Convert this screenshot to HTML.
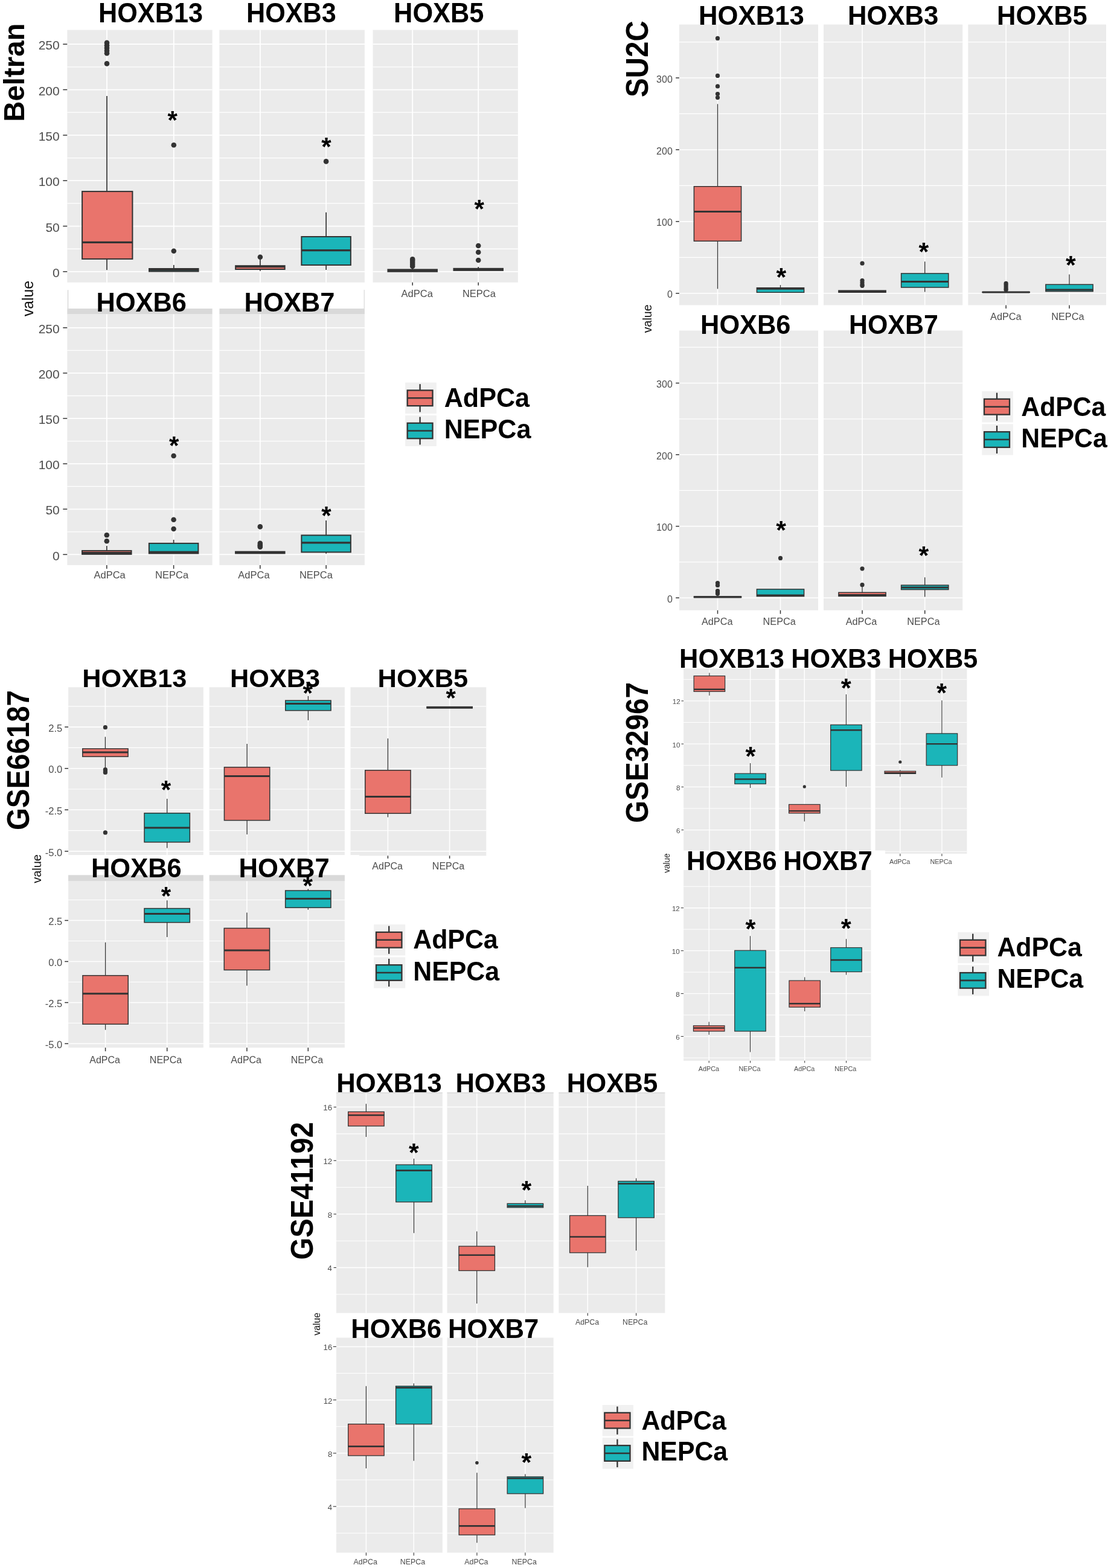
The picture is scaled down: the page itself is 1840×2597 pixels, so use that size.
<!DOCTYPE html>
<html><head><meta charset="utf-8"><title>HOXB expression boxplots</title>
<style>html,body{margin:0;padding:0;background:#fff;width:1840px;height:2597px;overflow:hidden}svg{display:block}</style></head>
<body>
<svg width="1840" height="2597" viewBox="0 0 1840 2597" font-family='"Liberation Sans", Arial, sans-serif'>
<rect x="111.3" y="49.6" width="240.3" height="418.2" fill="#EBEBEB"/>
<line x1="111.3" y1="412.23" x2="351.6" y2="412.23" stroke="#FFFFFF" stroke-width="1.3"/>
<line x1="111.3" y1="336.89" x2="351.6" y2="336.89" stroke="#FFFFFF" stroke-width="1.3"/>
<line x1="111.3" y1="261.55" x2="351.6" y2="261.55" stroke="#FFFFFF" stroke-width="1.3"/>
<line x1="111.3" y1="186.21" x2="351.6" y2="186.21" stroke="#FFFFFF" stroke-width="1.3"/>
<line x1="111.3" y1="110.87" x2="351.6" y2="110.87" stroke="#FFFFFF" stroke-width="1.3"/>
<line x1="111.3" y1="449.9" x2="351.6" y2="449.9" stroke="#FFFFFF" stroke-width="1.8"/>
<line x1="111.3" y1="374.56" x2="351.6" y2="374.56" stroke="#FFFFFF" stroke-width="1.8"/>
<line x1="111.3" y1="299.22" x2="351.6" y2="299.22" stroke="#FFFFFF" stroke-width="1.8"/>
<line x1="111.3" y1="223.88" x2="351.6" y2="223.88" stroke="#FFFFFF" stroke-width="1.8"/>
<line x1="111.3" y1="148.54" x2="351.6" y2="148.54" stroke="#FFFFFF" stroke-width="1.8"/>
<line x1="111.3" y1="73.2" x2="351.6" y2="73.2" stroke="#FFFFFF" stroke-width="1.8"/>
<line x1="177" y1="49.6" x2="177" y2="467.8" stroke="#FFFFFF" stroke-width="1.8"/>
<line x1="287.8" y1="49.6" x2="287.8" y2="467.8" stroke="#FFFFFF" stroke-width="1.8"/>
<line x1="177" y1="159" x2="177" y2="317.1" stroke="#333333" stroke-width="1.7"/>
<line x1="177" y1="428.9" x2="177" y2="447.2" stroke="#333333" stroke-width="1.7"/>
<rect x="136.1" y="317.1" width="83.3" height="111.8" fill="#E9746C" stroke="#333333" stroke-width="2"/>
<line x1="136.1" y1="401.3" x2="219.4" y2="401.3" stroke="#333333" stroke-width="3.3"/>
<circle cx="177" cy="70.9" r="4.3" fill="#333333"/>
<circle cx="177" cy="75.2" r="4.3" fill="#333333"/>
<circle cx="177" cy="79.6" r="4.3" fill="#333333"/>
<circle cx="177" cy="84" r="4.3" fill="#333333"/>
<circle cx="177" cy="88.2" r="4.3" fill="#333333"/>
<circle cx="177" cy="105.4" r="4.3" fill="#333333"/>
<line x1="287.8" y1="438.9" x2="287.8" y2="445" stroke="#333333" stroke-width="1.7"/>
<line x1="287.8" y1="449.5" x2="287.8" y2="450" stroke="#333333" stroke-width="1.7"/>
<rect x="247.05" y="445" width="81.5" height="4.5" fill="#1BB5B9" stroke="#333333" stroke-width="2"/>
<line x1="247.05" y1="447.2" x2="328.55" y2="447.2" stroke="#333333" stroke-width="3.3"/>
<circle cx="287.8" cy="240.3" r="4.3" fill="#333333"/>
<circle cx="287.8" cy="415.8" r="4.3" fill="#333333"/>
<text transform="translate(277.59,213.29) scale(1,1.000)" font-size="42.08" font-weight="bold" fill="#000">*</text>
<line x1="104.3" y1="449.9" x2="111.3" y2="449.9" stroke="#333333" stroke-width="1.5"/>
<text transform="translate(87.03,459.02) scale(1,1.000)" font-size="21" font-weight="normal" fill="#4D4D4D">0</text>
<line x1="104.3" y1="374.56" x2="111.3" y2="374.56" stroke="#333333" stroke-width="1.5"/>
<text transform="translate(75.38,383.68) scale(1,1.000)" font-size="21" font-weight="normal" fill="#4D4D4D">50</text>
<line x1="104.3" y1="299.22" x2="111.3" y2="299.22" stroke="#333333" stroke-width="1.5"/>
<text transform="translate(63.67,308.34) scale(1,1.000)" font-size="21" font-weight="normal" fill="#4D4D4D">100</text>
<line x1="104.3" y1="223.88" x2="111.3" y2="223.88" stroke="#333333" stroke-width="1.5"/>
<text transform="translate(63.67,233) scale(1,1.000)" font-size="21" font-weight="normal" fill="#4D4D4D">150</text>
<line x1="104.3" y1="148.54" x2="111.3" y2="148.54" stroke="#333333" stroke-width="1.5"/>
<text transform="translate(63.67,157.66) scale(1,1.000)" font-size="21" font-weight="normal" fill="#4D4D4D">200</text>
<line x1="104.3" y1="73.2" x2="111.3" y2="73.2" stroke="#333333" stroke-width="1.5"/>
<text transform="translate(63.67,82.32) scale(1,1.000)" font-size="21" font-weight="normal" fill="#4D4D4D">250</text>
<rect x="363.4" y="49.6" width="240.5" height="418.2" fill="#EBEBEB"/>
<line x1="363.4" y1="412.23" x2="603.9" y2="412.23" stroke="#FFFFFF" stroke-width="1.3"/>
<line x1="363.4" y1="336.89" x2="603.9" y2="336.89" stroke="#FFFFFF" stroke-width="1.3"/>
<line x1="363.4" y1="261.55" x2="603.9" y2="261.55" stroke="#FFFFFF" stroke-width="1.3"/>
<line x1="363.4" y1="186.21" x2="603.9" y2="186.21" stroke="#FFFFFF" stroke-width="1.3"/>
<line x1="363.4" y1="110.87" x2="603.9" y2="110.87" stroke="#FFFFFF" stroke-width="1.3"/>
<line x1="363.4" y1="449.9" x2="603.9" y2="449.9" stroke="#FFFFFF" stroke-width="1.8"/>
<line x1="363.4" y1="374.56" x2="603.9" y2="374.56" stroke="#FFFFFF" stroke-width="1.8"/>
<line x1="363.4" y1="299.22" x2="603.9" y2="299.22" stroke="#FFFFFF" stroke-width="1.8"/>
<line x1="363.4" y1="223.88" x2="603.9" y2="223.88" stroke="#FFFFFF" stroke-width="1.8"/>
<line x1="363.4" y1="148.54" x2="603.9" y2="148.54" stroke="#FFFFFF" stroke-width="1.8"/>
<line x1="363.4" y1="73.2" x2="603.9" y2="73.2" stroke="#FFFFFF" stroke-width="1.8"/>
<line x1="430.9" y1="49.6" x2="430.9" y2="467.8" stroke="#FFFFFF" stroke-width="1.8"/>
<line x1="540.1" y1="49.6" x2="540.1" y2="467.8" stroke="#FFFFFF" stroke-width="1.8"/>
<line x1="430.9" y1="430" x2="430.9" y2="440.2" stroke="#333333" stroke-width="1.7"/>
<line x1="430.9" y1="446" x2="430.9" y2="448.8" stroke="#333333" stroke-width="1.7"/>
<rect x="390.15" y="440.2" width="81.5" height="5.8" fill="#E9746C" stroke="#333333" stroke-width="2"/>
<line x1="390.15" y1="441.6" x2="471.65" y2="441.6" stroke="#333333" stroke-width="3.3"/>
<circle cx="430.9" cy="425.7" r="4.3" fill="#333333"/>
<line x1="540.1" y1="351.8" x2="540.1" y2="392" stroke="#333333" stroke-width="1.7"/>
<line x1="540.1" y1="439" x2="540.1" y2="446.9" stroke="#333333" stroke-width="1.7"/>
<rect x="499.35" y="392" width="81.5" height="47" fill="#1BB5B9" stroke="#333333" stroke-width="2"/>
<line x1="499.35" y1="414.6" x2="580.85" y2="414.6" stroke="#333333" stroke-width="3.3"/>
<circle cx="540.1" cy="267.4" r="4.3" fill="#333333"/>
<text transform="translate(532.29,257.09) scale(1,1.000)" font-size="42.08" font-weight="bold" fill="#000">*</text>
<rect x="617.5" y="49.6" width="240.3" height="418.2" fill="#EBEBEB"/>
<line x1="617.5" y1="412.23" x2="857.8" y2="412.23" stroke="#FFFFFF" stroke-width="1.3"/>
<line x1="617.5" y1="336.89" x2="857.8" y2="336.89" stroke="#FFFFFF" stroke-width="1.3"/>
<line x1="617.5" y1="261.55" x2="857.8" y2="261.55" stroke="#FFFFFF" stroke-width="1.3"/>
<line x1="617.5" y1="186.21" x2="857.8" y2="186.21" stroke="#FFFFFF" stroke-width="1.3"/>
<line x1="617.5" y1="110.87" x2="857.8" y2="110.87" stroke="#FFFFFF" stroke-width="1.3"/>
<line x1="617.5" y1="449.9" x2="857.8" y2="449.9" stroke="#FFFFFF" stroke-width="1.8"/>
<line x1="617.5" y1="374.56" x2="857.8" y2="374.56" stroke="#FFFFFF" stroke-width="1.8"/>
<line x1="617.5" y1="299.22" x2="857.8" y2="299.22" stroke="#FFFFFF" stroke-width="1.8"/>
<line x1="617.5" y1="223.88" x2="857.8" y2="223.88" stroke="#FFFFFF" stroke-width="1.8"/>
<line x1="617.5" y1="148.54" x2="857.8" y2="148.54" stroke="#FFFFFF" stroke-width="1.8"/>
<line x1="617.5" y1="73.2" x2="857.8" y2="73.2" stroke="#FFFFFF" stroke-width="1.8"/>
<line x1="683.2" y1="49.6" x2="683.2" y2="467.8" stroke="#FFFFFF" stroke-width="1.8"/>
<line x1="792.2" y1="49.6" x2="792.2" y2="467.8" stroke="#FFFFFF" stroke-width="1.8"/>
<line x1="683.2" y1="441" x2="683.2" y2="446.4" stroke="#333333" stroke-width="1.7"/>
<rect x="642.45" y="446.4" width="81.5" height="3.4" fill="#E9746C" stroke="#333333" stroke-width="2"/>
<line x1="642.45" y1="448.1" x2="723.95" y2="448.1" stroke="#333333" stroke-width="3.3"/>
<circle cx="683.2" cy="429.4" r="4.3" fill="#333333"/>
<circle cx="683.2" cy="432" r="4.3" fill="#333333"/>
<circle cx="683.2" cy="435" r="4.3" fill="#333333"/>
<circle cx="683.2" cy="438" r="4.3" fill="#333333"/>
<circle cx="683.2" cy="441" r="4.3" fill="#333333"/>
<line x1="792.2" y1="442" x2="792.2" y2="444.8" stroke="#333333" stroke-width="1.7"/>
<rect x="751.45" y="444.8" width="81.5" height="3.1" fill="#1BB5B9" stroke="#333333" stroke-width="2"/>
<line x1="751.45" y1="446.3" x2="832.95" y2="446.3" stroke="#333333" stroke-width="3.3"/>
<circle cx="792.2" cy="407" r="4.3" fill="#333333"/>
<circle cx="792.2" cy="417.7" r="4.3" fill="#333333"/>
<circle cx="792.2" cy="431" r="4.3" fill="#333333"/>
<text transform="translate(785.59,360.29) scale(1,1.000)" font-size="42.08" font-weight="bold" fill="#000">*</text>
<line x1="683.2" y1="467.8" x2="683.2" y2="472.8" stroke="#333333" stroke-width="1.5"/>
<text transform="translate(664.53,492.1) scale(1,1.000)" font-size="16.5" font-weight="normal" fill="#4D4D4D">AdPCa</text>
<line x1="792.2" y1="467.8" x2="792.2" y2="472.8" stroke="#333333" stroke-width="1.5"/>
<text transform="translate(765.91,492.1) scale(1,1.000)" font-size="16.5" font-weight="normal" fill="#4D4D4D">NEPCa</text>
<rect x="111.3" y="511.1" width="240.3" height="9.5" fill="#D9D9D9"/>
<rect x="363.4" y="511.1" width="240.5" height="9.5" fill="#D9D9D9"/>
<line x1="112.6" y1="480.3" x2="112.6" y2="511.1" stroke="#C8C8C8" stroke-width="1"/>
<line x1="603.2" y1="480" x2="603.2" y2="511.1" stroke="#D0D0D0" stroke-width="1"/>
<rect x="111.3" y="520.5" width="240.3" height="415.5" fill="#EBEBEB"/>
<line x1="111.3" y1="880.84" x2="351.6" y2="880.84" stroke="#FFFFFF" stroke-width="1.3"/>
<line x1="111.3" y1="805.72" x2="351.6" y2="805.72" stroke="#FFFFFF" stroke-width="1.3"/>
<line x1="111.3" y1="730.6" x2="351.6" y2="730.6" stroke="#FFFFFF" stroke-width="1.3"/>
<line x1="111.3" y1="655.48" x2="351.6" y2="655.48" stroke="#FFFFFF" stroke-width="1.3"/>
<line x1="111.3" y1="580.36" x2="351.6" y2="580.36" stroke="#FFFFFF" stroke-width="1.3"/>
<line x1="111.3" y1="918.4" x2="351.6" y2="918.4" stroke="#FFFFFF" stroke-width="1.8"/>
<line x1="111.3" y1="843.28" x2="351.6" y2="843.28" stroke="#FFFFFF" stroke-width="1.8"/>
<line x1="111.3" y1="768.16" x2="351.6" y2="768.16" stroke="#FFFFFF" stroke-width="1.8"/>
<line x1="111.3" y1="693.04" x2="351.6" y2="693.04" stroke="#FFFFFF" stroke-width="1.8"/>
<line x1="111.3" y1="617.92" x2="351.6" y2="617.92" stroke="#FFFFFF" stroke-width="1.8"/>
<line x1="111.3" y1="542.8" x2="351.6" y2="542.8" stroke="#FFFFFF" stroke-width="1.8"/>
<line x1="176.8" y1="520.5" x2="176.8" y2="936" stroke="#FFFFFF" stroke-width="1.8"/>
<line x1="287.6" y1="520.5" x2="287.6" y2="936" stroke="#FFFFFF" stroke-width="1.8"/>
<line x1="176.8" y1="904.1" x2="176.8" y2="912.1" stroke="#333333" stroke-width="1.7"/>
<line x1="176.8" y1="917.9" x2="176.8" y2="918.5" stroke="#333333" stroke-width="1.7"/>
<rect x="136.05" y="912.1" width="81.5" height="5.8" fill="#E9746C" stroke="#333333" stroke-width="2"/>
<line x1="136.05" y1="915.6" x2="217.55" y2="915.6" stroke="#333333" stroke-width="3.3"/>
<circle cx="176.8" cy="886.2" r="4.3" fill="#333333"/>
<circle cx="176.8" cy="896.3" r="4.3" fill="#333333"/>
<line x1="287.6" y1="894" x2="287.6" y2="899.9" stroke="#333333" stroke-width="1.7"/>
<line x1="287.6" y1="916.6" x2="287.6" y2="917" stroke="#333333" stroke-width="1.7"/>
<rect x="246.85" y="899.9" width="81.5" height="16.7" fill="#1BB5B9" stroke="#333333" stroke-width="2"/>
<line x1="246.85" y1="914.3" x2="328.35" y2="914.3" stroke="#333333" stroke-width="3.3"/>
<circle cx="287.6" cy="755" r="4.3" fill="#333333"/>
<circle cx="287.6" cy="860.7" r="4.3" fill="#333333"/>
<circle cx="287.6" cy="876" r="4.3" fill="#333333"/>
<text transform="translate(279.99,752.09) scale(1,1.000)" font-size="42.08" font-weight="bold" fill="#000">*</text>
<line x1="104.3" y1="918.4" x2="111.3" y2="918.4" stroke="#333333" stroke-width="1.5"/>
<text transform="translate(87.03,927.52) scale(1,1.000)" font-size="21" font-weight="normal" fill="#4D4D4D">0</text>
<line x1="104.3" y1="843.28" x2="111.3" y2="843.28" stroke="#333333" stroke-width="1.5"/>
<text transform="translate(75.38,852.4) scale(1,1.000)" font-size="21" font-weight="normal" fill="#4D4D4D">50</text>
<line x1="104.3" y1="768.16" x2="111.3" y2="768.16" stroke="#333333" stroke-width="1.5"/>
<text transform="translate(63.67,777.28) scale(1,1.000)" font-size="21" font-weight="normal" fill="#4D4D4D">100</text>
<line x1="104.3" y1="693.04" x2="111.3" y2="693.04" stroke="#333333" stroke-width="1.5"/>
<text transform="translate(63.67,702.16) scale(1,1.000)" font-size="21" font-weight="normal" fill="#4D4D4D">150</text>
<line x1="104.3" y1="617.92" x2="111.3" y2="617.92" stroke="#333333" stroke-width="1.5"/>
<text transform="translate(63.67,627.04) scale(1,1.000)" font-size="21" font-weight="normal" fill="#4D4D4D">200</text>
<line x1="104.3" y1="542.8" x2="111.3" y2="542.8" stroke="#333333" stroke-width="1.5"/>
<text transform="translate(63.67,551.92) scale(1,1.000)" font-size="21" font-weight="normal" fill="#4D4D4D">250</text>
<rect x="363.4" y="520.5" width="240.5" height="415.5" fill="#EBEBEB"/>
<line x1="363.4" y1="880.84" x2="603.9" y2="880.84" stroke="#FFFFFF" stroke-width="1.3"/>
<line x1="363.4" y1="805.72" x2="603.9" y2="805.72" stroke="#FFFFFF" stroke-width="1.3"/>
<line x1="363.4" y1="730.6" x2="603.9" y2="730.6" stroke="#FFFFFF" stroke-width="1.3"/>
<line x1="363.4" y1="655.48" x2="603.9" y2="655.48" stroke="#FFFFFF" stroke-width="1.3"/>
<line x1="363.4" y1="580.36" x2="603.9" y2="580.36" stroke="#FFFFFF" stroke-width="1.3"/>
<line x1="363.4" y1="918.4" x2="603.9" y2="918.4" stroke="#FFFFFF" stroke-width="1.8"/>
<line x1="363.4" y1="843.28" x2="603.9" y2="843.28" stroke="#FFFFFF" stroke-width="1.8"/>
<line x1="363.4" y1="768.16" x2="603.9" y2="768.16" stroke="#FFFFFF" stroke-width="1.8"/>
<line x1="363.4" y1="693.04" x2="603.9" y2="693.04" stroke="#FFFFFF" stroke-width="1.8"/>
<line x1="363.4" y1="617.92" x2="603.9" y2="617.92" stroke="#FFFFFF" stroke-width="1.8"/>
<line x1="363.4" y1="542.8" x2="603.9" y2="542.8" stroke="#FFFFFF" stroke-width="1.8"/>
<line x1="430.8" y1="520.5" x2="430.8" y2="936" stroke="#FFFFFF" stroke-width="1.8"/>
<line x1="540.1" y1="520.5" x2="540.1" y2="936" stroke="#FFFFFF" stroke-width="1.8"/>
<rect x="390.05" y="913.7" width="81.5" height="2.8" fill="#E9746C" stroke="#333333" stroke-width="2"/>
<line x1="390.05" y1="915.1" x2="471.55" y2="915.1" stroke="#333333" stroke-width="3.3"/>
<circle cx="430.8" cy="872.4" r="4.3" fill="#333333"/>
<circle cx="430.8" cy="899.8" r="4.3" fill="#333333"/>
<circle cx="430.8" cy="902.5" r="4.3" fill="#333333"/>
<circle cx="430.8" cy="904" r="4.3" fill="#333333"/>
<circle cx="430.8" cy="906" r="4.3" fill="#333333"/>
<line x1="540.1" y1="861.9" x2="540.1" y2="886.5" stroke="#333333" stroke-width="1.7"/>
<line x1="540.1" y1="914.5" x2="540.1" y2="917" stroke="#333333" stroke-width="1.7"/>
<rect x="499.35" y="886.5" width="81.5" height="28" fill="#1BB5B9" stroke="#333333" stroke-width="2"/>
<line x1="499.35" y1="898.9" x2="580.85" y2="898.9" stroke="#333333" stroke-width="3.3"/>
<text transform="translate(532.29,867.59) scale(1,1.000)" font-size="42.08" font-weight="bold" fill="#000">*</text>
<line x1="176.8" y1="936" x2="176.8" y2="942" stroke="#333333" stroke-width="1.5"/>
<text transform="translate(155.48,957.8) scale(1,1.000)" font-size="16.5" font-weight="normal" fill="#4D4D4D">AdPCa</text>
<line x1="287.6" y1="936" x2="287.6" y2="942" stroke="#333333" stroke-width="1.5"/>
<text transform="translate(257.11,957.8) scale(1,1.000)" font-size="16.5" font-weight="normal" fill="#4D4D4D">NEPCa</text>
<line x1="430.8" y1="936" x2="430.8" y2="942" stroke="#333333" stroke-width="1.5"/>
<text transform="translate(394.33,957.7) scale(1,1.000)" font-size="16.5" font-weight="normal" fill="#4D4D4D">AdPCa</text>
<line x1="540.1" y1="936" x2="540.1" y2="942" stroke="#333333" stroke-width="1.5"/>
<text transform="translate(495.91,957.7) scale(1,1.000)" font-size="16.5" font-weight="normal" fill="#4D4D4D">NEPCa</text>
<text transform="translate(40.2,201.8) rotate(-90) scale(1,1.009)" font-size="47.42" font-weight="bold" fill="#000">Beltran</text>
<text transform="translate(55,524.06) rotate(-90) scale(1,1.032)" font-size="24.73" font-weight="normal" fill="#111">value</text>
<text transform="translate(163.08,37.4) scale(1,1.049)" font-size="43.21" font-weight="bold" fill="#000">HOXB13</text>
<text transform="translate(408.09,37.4) scale(1,1.050)" font-size="43.14" font-weight="bold" fill="#000">HOXB3</text>
<text transform="translate(652.07,37.4) scale(1,1.045)" font-size="43.37" font-weight="bold" fill="#000">HOXB5</text>
<text transform="translate(159.57,515.5) scale(1,1.025)" font-size="43.38" font-weight="bold" fill="#000">HOXB6</text>
<text transform="translate(404.57,515.5) scale(1,1.022)" font-size="43.48" font-weight="bold" fill="#000">HOXB7</text>
<rect x="671.1" y="633.6" width="51.7" height="51.4" fill="#F1F1F1"/>
<line x1="695.6" y1="636.17" x2="695.6" y2="682.43" stroke="#333333" stroke-width="2.3"/>
<rect x="674.7" y="646.45" width="41.8" height="25.7" fill="#E9746C" stroke="#333333" stroke-width="2.3"/>
<line x1="674.7" y1="659.3" x2="716.5" y2="659.3" stroke="#333333" stroke-width="2.6"/>
<text transform="translate(735.72,673.9) scale(1,1.040)" font-size="43.1" font-weight="bold" fill="#000">AdPCa</text>
<rect x="671.1" y="688" width="51.7" height="51" fill="#F1F1F1"/>
<line x1="695.6" y1="690.55" x2="695.6" y2="736.45" stroke="#333333" stroke-width="2.3"/>
<rect x="674.7" y="700.75" width="41.8" height="25.5" fill="#1BB5B9" stroke="#333333" stroke-width="2.3"/>
<line x1="674.7" y1="713.5" x2="716.5" y2="713.5" stroke="#333333" stroke-width="2.6"/>
<text transform="translate(735.72,726.1) scale(1,1.040)" font-size="43.1" font-weight="bold" fill="#000">NEPCa</text>
<rect x="1124.9" y="40.6" width="230.1" height="464.8" fill="#EBEBEB"/>
<line x1="1124.9" y1="426.33" x2="1355" y2="426.33" stroke="#FFFFFF" stroke-width="1.2"/>
<line x1="1124.9" y1="307.4" x2="1355" y2="307.4" stroke="#FFFFFF" stroke-width="1.2"/>
<line x1="1124.9" y1="188.47" x2="1355" y2="188.47" stroke="#FFFFFF" stroke-width="1.2"/>
<line x1="1124.9" y1="69.53" x2="1355" y2="69.53" stroke="#FFFFFF" stroke-width="1.2"/>
<line x1="1124.9" y1="485.8" x2="1355" y2="485.8" stroke="#FFFFFF" stroke-width="1.6"/>
<line x1="1124.9" y1="366.87" x2="1355" y2="366.87" stroke="#FFFFFF" stroke-width="1.6"/>
<line x1="1124.9" y1="247.93" x2="1355" y2="247.93" stroke="#FFFFFF" stroke-width="1.6"/>
<line x1="1124.9" y1="129" x2="1355" y2="129" stroke="#FFFFFF" stroke-width="1.6"/>
<line x1="1188.5" y1="40.6" x2="1188.5" y2="505.4" stroke="#FFFFFF" stroke-width="1.6"/>
<line x1="1292.5" y1="40.6" x2="1292.5" y2="505.4" stroke="#FFFFFF" stroke-width="1.6"/>
<line x1="1188.5" y1="172.3" x2="1188.5" y2="308.8" stroke="#333333" stroke-width="1.3"/>
<line x1="1188.5" y1="399.3" x2="1188.5" y2="478.4" stroke="#333333" stroke-width="1.3"/>
<rect x="1149.4" y="308.8" width="78.2" height="90.5" fill="#E9746C" stroke="#333333" stroke-width="1.5"/>
<line x1="1149.4" y1="350.6" x2="1227.6" y2="350.6" stroke="#333333" stroke-width="3"/>
<circle cx="1188.5" cy="63.4" r="3.6" fill="#333333"/>
<circle cx="1188.5" cy="125.4" r="3.6" fill="#333333"/>
<circle cx="1188.5" cy="142.9" r="3.6" fill="#333333"/>
<circle cx="1188.5" cy="155.5" r="3.6" fill="#333333"/>
<circle cx="1188.5" cy="161.6" r="3.6" fill="#333333"/>
<line x1="1292.5" y1="472.1" x2="1292.5" y2="476.7" stroke="#333333" stroke-width="1.3"/>
<line x1="1292.5" y1="484.3" x2="1292.5" y2="485" stroke="#333333" stroke-width="1.3"/>
<rect x="1253.4" y="476.7" width="78.2" height="7.6" fill="#1BB5B9" stroke="#333333" stroke-width="1.5"/>
<line x1="1253.4" y1="478.3" x2="1331.6" y2="478.3" stroke="#333333" stroke-width="3"/>
<text transform="translate(1285.44,472.98) scale(1,1.000)" font-size="42.86" font-weight="bold" fill="#000">*</text>
<line x1="1119.2" y1="485.8" x2="1124.9" y2="485.8" stroke="#333333" stroke-width="1.5"/>
<text transform="translate(1104.92,493.4) scale(1,1.000)" font-size="16" font-weight="normal" fill="#4D4D4D">0</text>
<line x1="1119.2" y1="366.87" x2="1124.9" y2="366.87" stroke="#333333" stroke-width="1.5"/>
<text transform="translate(1087.12,374.47) scale(1,1.000)" font-size="16" font-weight="normal" fill="#4D4D4D">100</text>
<line x1="1119.2" y1="247.93" x2="1124.9" y2="247.93" stroke="#333333" stroke-width="1.5"/>
<text transform="translate(1087.12,255.53) scale(1,1.000)" font-size="16" font-weight="normal" fill="#4D4D4D">200</text>
<line x1="1119.2" y1="129" x2="1124.9" y2="129" stroke="#333333" stroke-width="1.5"/>
<text transform="translate(1087.12,136.6) scale(1,1.000)" font-size="16" font-weight="normal" fill="#4D4D4D">300</text>
<rect x="1364" y="40.6" width="230.2" height="464.8" fill="#EBEBEB"/>
<line x1="1364" y1="426.33" x2="1594.2" y2="426.33" stroke="#FFFFFF" stroke-width="1.2"/>
<line x1="1364" y1="307.4" x2="1594.2" y2="307.4" stroke="#FFFFFF" stroke-width="1.2"/>
<line x1="1364" y1="188.47" x2="1594.2" y2="188.47" stroke="#FFFFFF" stroke-width="1.2"/>
<line x1="1364" y1="69.53" x2="1594.2" y2="69.53" stroke="#FFFFFF" stroke-width="1.2"/>
<line x1="1364" y1="485.8" x2="1594.2" y2="485.8" stroke="#FFFFFF" stroke-width="1.6"/>
<line x1="1364" y1="366.87" x2="1594.2" y2="366.87" stroke="#FFFFFF" stroke-width="1.6"/>
<line x1="1364" y1="247.93" x2="1594.2" y2="247.93" stroke="#FFFFFF" stroke-width="1.6"/>
<line x1="1364" y1="129" x2="1594.2" y2="129" stroke="#FFFFFF" stroke-width="1.6"/>
<line x1="1428" y1="40.6" x2="1428" y2="505.4" stroke="#FFFFFF" stroke-width="1.6"/>
<line x1="1531.7" y1="40.6" x2="1531.7" y2="505.4" stroke="#FFFFFF" stroke-width="1.6"/>
<rect x="1388.9" y="481.2" width="78.2" height="3" fill="#E9746C" stroke="#333333" stroke-width="1.5"/>
<line x1="1388.9" y1="482.7" x2="1467.1" y2="482.7" stroke="#333333" stroke-width="3"/>
<circle cx="1428" cy="436.2" r="3.6" fill="#333333"/>
<circle cx="1428" cy="464.5" r="3.6" fill="#333333"/>
<circle cx="1428" cy="468" r="3.6" fill="#333333"/>
<circle cx="1428" cy="471.5" r="3.6" fill="#333333"/>
<circle cx="1428" cy="473.3" r="3.6" fill="#333333"/>
<line x1="1531.7" y1="433.2" x2="1531.7" y2="452.9" stroke="#333333" stroke-width="1.3"/>
<line x1="1531.7" y1="476" x2="1531.7" y2="483.4" stroke="#333333" stroke-width="1.3"/>
<rect x="1492.6" y="452.9" width="78.2" height="23.1" fill="#1BB5B9" stroke="#333333" stroke-width="1.5"/>
<line x1="1492.6" y1="466.5" x2="1570.8" y2="466.5" stroke="#333333" stroke-width="3"/>
<text transform="translate(1521.44,430.68) scale(1,1.000)" font-size="42.86" font-weight="bold" fill="#000">*</text>
<rect x="1603.3" y="40.6" width="228.7" height="464.8" fill="#EBEBEB"/>
<line x1="1603.3" y1="426.33" x2="1832" y2="426.33" stroke="#FFFFFF" stroke-width="1.2"/>
<line x1="1603.3" y1="307.4" x2="1832" y2="307.4" stroke="#FFFFFF" stroke-width="1.2"/>
<line x1="1603.3" y1="188.47" x2="1832" y2="188.47" stroke="#FFFFFF" stroke-width="1.2"/>
<line x1="1603.3" y1="69.53" x2="1832" y2="69.53" stroke="#FFFFFF" stroke-width="1.2"/>
<line x1="1603.3" y1="485.8" x2="1832" y2="485.8" stroke="#FFFFFF" stroke-width="1.6"/>
<line x1="1603.3" y1="366.87" x2="1832" y2="366.87" stroke="#FFFFFF" stroke-width="1.6"/>
<line x1="1603.3" y1="247.93" x2="1832" y2="247.93" stroke="#FFFFFF" stroke-width="1.6"/>
<line x1="1603.3" y1="129" x2="1832" y2="129" stroke="#FFFFFF" stroke-width="1.6"/>
<line x1="1666.1" y1="40.6" x2="1666.1" y2="505.4" stroke="#FFFFFF" stroke-width="1.6"/>
<line x1="1771" y1="40.6" x2="1771" y2="505.4" stroke="#FFFFFF" stroke-width="1.6"/>
<rect x="1627" y="483.6" width="78.2" height="0.7" fill="#E9746C" stroke="#333333" stroke-width="1.5"/>
<line x1="1627" y1="484" x2="1705.2" y2="484" stroke="#333333" stroke-width="3"/>
<circle cx="1666.1" cy="469.4" r="3.6" fill="#333333"/>
<circle cx="1666.1" cy="472" r="3.6" fill="#333333"/>
<circle cx="1666.1" cy="475" r="3.6" fill="#333333"/>
<circle cx="1666.1" cy="478" r="3.6" fill="#333333"/>
<circle cx="1666.1" cy="480" r="3.6" fill="#333333"/>
<line x1="1771" y1="454.6" x2="1771" y2="471.2" stroke="#333333" stroke-width="1.3"/>
<line x1="1771" y1="482.6" x2="1771" y2="483" stroke="#333333" stroke-width="1.3"/>
<rect x="1731.9" y="471.2" width="78.2" height="11.4" fill="#1BB5B9" stroke="#333333" stroke-width="1.5"/>
<line x1="1731.9" y1="480" x2="1810.1" y2="480" stroke="#333333" stroke-width="3"/>
<text transform="translate(1765.04,453.18) scale(1,1.000)" font-size="42.86" font-weight="bold" fill="#000">*</text>
<line x1="1666.1" y1="505.4" x2="1666.1" y2="510.9" stroke="#333333" stroke-width="1.5"/>
<text transform="translate(1640.04,529.5) scale(1,1.000)" font-size="16.3" font-weight="normal" fill="#4D4D4D">AdPCa</text>
<line x1="1771" y1="505.4" x2="1771" y2="510.9" stroke="#333333" stroke-width="1.5"/>
<text transform="translate(1741.15,529.5) scale(1,1.000)" font-size="16.3" font-weight="normal" fill="#4D4D4D">NEPCa</text>
<rect x="1124.9" y="547.5" width="230.1" height="463.3" fill="#EBEBEB"/>
<line x1="1124.9" y1="930.92" x2="1355" y2="930.92" stroke="#FFFFFF" stroke-width="1.2"/>
<line x1="1124.9" y1="812.35" x2="1355" y2="812.35" stroke="#FFFFFF" stroke-width="1.2"/>
<line x1="1124.9" y1="693.78" x2="1355" y2="693.78" stroke="#FFFFFF" stroke-width="1.2"/>
<line x1="1124.9" y1="575.22" x2="1355" y2="575.22" stroke="#FFFFFF" stroke-width="1.2"/>
<line x1="1124.9" y1="990.2" x2="1355" y2="990.2" stroke="#FFFFFF" stroke-width="1.6"/>
<line x1="1124.9" y1="871.63" x2="1355" y2="871.63" stroke="#FFFFFF" stroke-width="1.6"/>
<line x1="1124.9" y1="753.07" x2="1355" y2="753.07" stroke="#FFFFFF" stroke-width="1.6"/>
<line x1="1124.9" y1="634.5" x2="1355" y2="634.5" stroke="#FFFFFF" stroke-width="1.6"/>
<line x1="1188.5" y1="547.5" x2="1188.5" y2="1010.8" stroke="#FFFFFF" stroke-width="1.6"/>
<line x1="1292.5" y1="547.5" x2="1292.5" y2="1010.8" stroke="#FFFFFF" stroke-width="1.6"/>
<rect x="1149.4" y="988" width="78.2" height="1.6" fill="#E9746C" stroke="#333333" stroke-width="1.5"/>
<line x1="1149.4" y1="988.8" x2="1227.6" y2="988.8" stroke="#333333" stroke-width="3"/>
<circle cx="1188.5" cy="965.5" r="3.6" fill="#333333"/>
<circle cx="1188.5" cy="969.5" r="3.6" fill="#333333"/>
<circle cx="1188.5" cy="978.5" r="3.6" fill="#333333"/>
<circle cx="1188.5" cy="981" r="3.6" fill="#333333"/>
<circle cx="1188.5" cy="983.3" r="3.6" fill="#333333"/>
<line x1="1292.5" y1="987.6" x2="1292.5" y2="988" stroke="#333333" stroke-width="1.3"/>
<rect x="1253.4" y="975.9" width="78.2" height="11.7" fill="#1BB5B9" stroke="#333333" stroke-width="1.5"/>
<line x1="1253.4" y1="986" x2="1331.6" y2="986" stroke="#333333" stroke-width="3"/>
<circle cx="1292.5" cy="924.4" r="3.6" fill="#333333"/>
<text transform="translate(1285.14,892.38) scale(1,1.000)" font-size="42.86" font-weight="bold" fill="#000">*</text>
<line x1="1119.2" y1="990.2" x2="1124.9" y2="990.2" stroke="#333333" stroke-width="1.5"/>
<text transform="translate(1104.92,997.8) scale(1,1.000)" font-size="16" font-weight="normal" fill="#4D4D4D">0</text>
<line x1="1119.2" y1="871.63" x2="1124.9" y2="871.63" stroke="#333333" stroke-width="1.5"/>
<text transform="translate(1087.12,879.23) scale(1,1.000)" font-size="16" font-weight="normal" fill="#4D4D4D">100</text>
<line x1="1119.2" y1="753.07" x2="1124.9" y2="753.07" stroke="#333333" stroke-width="1.5"/>
<text transform="translate(1087.12,760.67) scale(1,1.000)" font-size="16" font-weight="normal" fill="#4D4D4D">200</text>
<line x1="1119.2" y1="634.5" x2="1124.9" y2="634.5" stroke="#333333" stroke-width="1.5"/>
<text transform="translate(1087.12,642.1) scale(1,1.000)" font-size="16" font-weight="normal" fill="#4D4D4D">300</text>
<rect x="1364" y="547.5" width="230.2" height="463.3" fill="#EBEBEB"/>
<line x1="1364" y1="930.92" x2="1594.2" y2="930.92" stroke="#FFFFFF" stroke-width="1.2"/>
<line x1="1364" y1="812.35" x2="1594.2" y2="812.35" stroke="#FFFFFF" stroke-width="1.2"/>
<line x1="1364" y1="693.78" x2="1594.2" y2="693.78" stroke="#FFFFFF" stroke-width="1.2"/>
<line x1="1364" y1="575.22" x2="1594.2" y2="575.22" stroke="#FFFFFF" stroke-width="1.2"/>
<line x1="1364" y1="990.2" x2="1594.2" y2="990.2" stroke="#FFFFFF" stroke-width="1.6"/>
<line x1="1364" y1="871.63" x2="1594.2" y2="871.63" stroke="#FFFFFF" stroke-width="1.6"/>
<line x1="1364" y1="753.07" x2="1594.2" y2="753.07" stroke="#FFFFFF" stroke-width="1.6"/>
<line x1="1364" y1="634.5" x2="1594.2" y2="634.5" stroke="#FFFFFF" stroke-width="1.6"/>
<line x1="1428" y1="547.5" x2="1428" y2="1010.8" stroke="#FFFFFF" stroke-width="1.6"/>
<line x1="1531.7" y1="547.5" x2="1531.7" y2="1010.8" stroke="#FFFFFF" stroke-width="1.6"/>
<line x1="1428" y1="968.7" x2="1428" y2="981.3" stroke="#333333" stroke-width="1.3"/>
<line x1="1428" y1="987.4" x2="1428" y2="988" stroke="#333333" stroke-width="1.3"/>
<rect x="1388.9" y="981.3" width="78.2" height="6.1" fill="#E9746C" stroke="#333333" stroke-width="1.5"/>
<line x1="1388.9" y1="985.6" x2="1467.1" y2="985.6" stroke="#333333" stroke-width="3"/>
<circle cx="1428" cy="941.8" r="3.6" fill="#333333"/>
<circle cx="1428" cy="968.7" r="3.6" fill="#333333"/>
<line x1="1531.7" y1="956.2" x2="1531.7" y2="969.2" stroke="#333333" stroke-width="1.3"/>
<line x1="1531.7" y1="976.5" x2="1531.7" y2="988.4" stroke="#333333" stroke-width="1.3"/>
<rect x="1492.6" y="969.2" width="78.2" height="7.3" fill="#1BB5B9" stroke="#333333" stroke-width="1.5"/>
<line x1="1492.6" y1="972.9" x2="1570.8" y2="972.9" stroke="#333333" stroke-width="3"/>
<text transform="translate(1521.44,934.08) scale(1,1.000)" font-size="42.86" font-weight="bold" fill="#000">*</text>
<line x1="1188.5" y1="1010.8" x2="1188.5" y2="1016.7" stroke="#333333" stroke-width="1.5"/>
<text transform="translate(1161.89,1035.2) scale(1,1.000)" font-size="16.3" font-weight="normal" fill="#4D4D4D">AdPCa</text>
<line x1="1292.5" y1="1010.8" x2="1292.5" y2="1016.7" stroke="#333333" stroke-width="1.5"/>
<text transform="translate(1263.55,1035.2) scale(1,1.000)" font-size="16.3" font-weight="normal" fill="#4D4D4D">NEPCa</text>
<line x1="1428" y1="1010.8" x2="1428" y2="1016.7" stroke="#333333" stroke-width="1.5"/>
<text transform="translate(1400.64,1035.2) scale(1,1.000)" font-size="16.3" font-weight="normal" fill="#4D4D4D">AdPCa</text>
<line x1="1531.7" y1="1010.8" x2="1531.7" y2="1016.7" stroke="#333333" stroke-width="1.5"/>
<text transform="translate(1502.15,1035.2) scale(1,1.000)" font-size="16.3" font-weight="normal" fill="#4D4D4D">NEPCa</text>
<text transform="translate(1073.1,160.92) rotate(-90) scale(1,1.087)" font-size="47.47" font-weight="bold" fill="#000">SU2C</text>
<text transform="translate(1079.3,551.15) rotate(-90) scale(1,1.045)" font-size="19.53" font-weight="normal" fill="#111">value</text>
<text transform="translate(1157.05,40.6) scale(1,1.012)" font-size="43.69" font-weight="bold" fill="#000">HOXB13</text>
<text transform="translate(1404.06,40.6) scale(1,1.014)" font-size="43.62" font-weight="bold" fill="#000">HOXB3</text>
<text transform="translate(1651.07,40.6) scale(1,1.018)" font-size="43.43" font-weight="bold" fill="#000">HOXB5</text>
<text transform="translate(1160.07,552.5) scale(1,1.025)" font-size="43.38" font-weight="bold" fill="#000">HOXB6</text>
<text transform="translate(1405.9,552.5) scale(1,1.035)" font-size="42.94" font-weight="bold" fill="#000">HOXB7</text>
<rect x="1626.3" y="648" width="51.6" height="51.5" fill="#F1F1F1"/>
<line x1="1651" y1="650.58" x2="1651" y2="696.92" stroke="#333333" stroke-width="2.3"/>
<rect x="1630" y="660.88" width="42" height="25.75" fill="#E9746C" stroke="#333333" stroke-width="2.3"/>
<line x1="1630" y1="673.75" x2="1672" y2="673.75" stroke="#333333" stroke-width="2.6"/>
<text transform="translate(1691.33,688.8) scale(1,1.040)" font-size="42.7" font-weight="bold" fill="#000">AdPCa</text>
<rect x="1626.3" y="702.4" width="51.6" height="51.3" fill="#F1F1F1"/>
<line x1="1651" y1="704.97" x2="1651" y2="751.13" stroke="#333333" stroke-width="2.3"/>
<rect x="1630" y="715.23" width="42" height="25.65" fill="#1BB5B9" stroke="#333333" stroke-width="2.3"/>
<line x1="1630" y1="728.05" x2="1672" y2="728.05" stroke="#333333" stroke-width="2.6"/>
<text transform="translate(1691.33,740.5) scale(1,1.040)" font-size="42.7" font-weight="bold" fill="#000">NEPCa</text>
<rect x="113.1" y="1138.2" width="223.7" height="277.9" fill="#EBEBEB"/>
<line x1="113.1" y1="1375.6" x2="336.8" y2="1375.6" stroke="#FFFFFF" stroke-width="1.2"/>
<line x1="113.1" y1="1307" x2="336.8" y2="1307" stroke="#FFFFFF" stroke-width="1.2"/>
<line x1="113.1" y1="1238.4" x2="336.8" y2="1238.4" stroke="#FFFFFF" stroke-width="1.2"/>
<line x1="113.1" y1="1169.8" x2="336.8" y2="1169.8" stroke="#FFFFFF" stroke-width="1.2"/>
<line x1="113.1" y1="1409.9" x2="336.8" y2="1409.9" stroke="#FFFFFF" stroke-width="1.6"/>
<line x1="113.1" y1="1341.3" x2="336.8" y2="1341.3" stroke="#FFFFFF" stroke-width="1.6"/>
<line x1="113.1" y1="1272.7" x2="336.8" y2="1272.7" stroke="#FFFFFF" stroke-width="1.6"/>
<line x1="113.1" y1="1204.1" x2="336.8" y2="1204.1" stroke="#FFFFFF" stroke-width="1.6"/>
<line x1="174.4" y1="1138.2" x2="174.4" y2="1416.1" stroke="#FFFFFF" stroke-width="1.6"/>
<line x1="276.7" y1="1138.2" x2="276.7" y2="1416.1" stroke="#FFFFFF" stroke-width="1.6"/>
<line x1="174.4" y1="1220.4" x2="174.4" y2="1240" stroke="#333333" stroke-width="1.3"/>
<line x1="174.4" y1="1253.1" x2="174.4" y2="1271.7" stroke="#333333" stroke-width="1.3"/>
<rect x="136.75" y="1240" width="75.3" height="13.1" fill="#E9746C" stroke="#333333" stroke-width="1.5"/>
<line x1="136.75" y1="1246.1" x2="212.05" y2="1246.1" stroke="#333333" stroke-width="3"/>
<circle cx="174.4" cy="1204.7" r="3.6" fill="#333333"/>
<circle cx="174.4" cy="1274.5" r="3.6" fill="#333333"/>
<circle cx="174.4" cy="1277" r="3.6" fill="#333333"/>
<circle cx="174.4" cy="1279.5" r="3.6" fill="#333333"/>
<circle cx="174.4" cy="1378.9" r="3.6" fill="#333333"/>
<line x1="276.7" y1="1323" x2="276.7" y2="1346.8" stroke="#333333" stroke-width="1.3"/>
<line x1="276.7" y1="1394.8" x2="276.7" y2="1404.6" stroke="#333333" stroke-width="1.3"/>
<rect x="239.05" y="1346.8" width="75.3" height="48" fill="#1BB5B9" stroke="#333333" stroke-width="1.5"/>
<line x1="239.05" y1="1371.1" x2="314.35" y2="1371.1" stroke="#333333" stroke-width="3"/>
<text transform="translate(266.79,1321.59) scale(1,1.000)" font-size="42.08" font-weight="bold" fill="#000">*</text>
<line x1="107.2" y1="1204.1" x2="113.1" y2="1204.1" stroke="#333333" stroke-width="1.5"/>
<text transform="translate(80.32,1211.77) scale(1,1.000)" font-size="16.5" font-weight="normal" fill="#4D4D4D">2.5</text>
<line x1="107.2" y1="1272.7" x2="113.1" y2="1272.7" stroke="#333333" stroke-width="1.5"/>
<text transform="translate(80.28,1280.37) scale(1,1.000)" font-size="16.5" font-weight="normal" fill="#4D4D4D">0.0</text>
<line x1="107.2" y1="1341.3" x2="113.1" y2="1341.3" stroke="#333333" stroke-width="1.5"/>
<text transform="translate(74.84,1348.97) scale(1,1.000)" font-size="16.5" font-weight="normal" fill="#4D4D4D">-2.5</text>
<line x1="107.2" y1="1409.9" x2="113.1" y2="1409.9" stroke="#333333" stroke-width="1.5"/>
<text transform="translate(74.8,1417.57) scale(1,1.000)" font-size="16.5" font-weight="normal" fill="#4D4D4D">-5.0</text>
<rect x="346.7" y="1138.2" width="224.2" height="277.9" fill="#EBEBEB"/>
<line x1="346.7" y1="1375.6" x2="570.9" y2="1375.6" stroke="#FFFFFF" stroke-width="1.2"/>
<line x1="346.7" y1="1307" x2="570.9" y2="1307" stroke="#FFFFFF" stroke-width="1.2"/>
<line x1="346.7" y1="1238.4" x2="570.9" y2="1238.4" stroke="#FFFFFF" stroke-width="1.2"/>
<line x1="346.7" y1="1169.8" x2="570.9" y2="1169.8" stroke="#FFFFFF" stroke-width="1.2"/>
<line x1="346.7" y1="1409.9" x2="570.9" y2="1409.9" stroke="#FFFFFF" stroke-width="1.6"/>
<line x1="346.7" y1="1341.3" x2="570.9" y2="1341.3" stroke="#FFFFFF" stroke-width="1.6"/>
<line x1="346.7" y1="1272.7" x2="570.9" y2="1272.7" stroke="#FFFFFF" stroke-width="1.6"/>
<line x1="346.7" y1="1204.1" x2="570.9" y2="1204.1" stroke="#FFFFFF" stroke-width="1.6"/>
<line x1="409.1" y1="1138.2" x2="409.1" y2="1416.1" stroke="#FFFFFF" stroke-width="1.6"/>
<line x1="510.4" y1="1138.2" x2="510.4" y2="1416.1" stroke="#FFFFFF" stroke-width="1.6"/>
<line x1="409.1" y1="1231.9" x2="409.1" y2="1270.7" stroke="#333333" stroke-width="1.3"/>
<line x1="409.1" y1="1358.7" x2="409.1" y2="1382.1" stroke="#333333" stroke-width="1.3"/>
<rect x="371.45" y="1270.7" width="75.3" height="88" fill="#E9746C" stroke="#333333" stroke-width="1.5"/>
<line x1="371.45" y1="1285.6" x2="446.75" y2="1285.6" stroke="#333333" stroke-width="3"/>
<line x1="510.4" y1="1152.8" x2="510.4" y2="1160.2" stroke="#333333" stroke-width="1.3"/>
<line x1="510.4" y1="1176.8" x2="510.4" y2="1192.9" stroke="#333333" stroke-width="1.3"/>
<rect x="472.75" y="1160.2" width="75.3" height="16.6" fill="#1BB5B9" stroke="#333333" stroke-width="1.5"/>
<line x1="472.75" y1="1165.5" x2="548.05" y2="1165.5" stroke="#333333" stroke-width="3"/>
<text transform="translate(501.39,1161.59) scale(1,1.000)" font-size="42.08" font-weight="bold" fill="#000">*</text>
<rect x="580.5" y="1138.2" width="224.8" height="277.9" fill="#EBEBEB"/>
<line x1="580.5" y1="1375.6" x2="805.3" y2="1375.6" stroke="#FFFFFF" stroke-width="1.2"/>
<line x1="580.5" y1="1307" x2="805.3" y2="1307" stroke="#FFFFFF" stroke-width="1.2"/>
<line x1="580.5" y1="1238.4" x2="805.3" y2="1238.4" stroke="#FFFFFF" stroke-width="1.2"/>
<line x1="580.5" y1="1169.8" x2="805.3" y2="1169.8" stroke="#FFFFFF" stroke-width="1.2"/>
<line x1="580.5" y1="1409.9" x2="805.3" y2="1409.9" stroke="#FFFFFF" stroke-width="1.6"/>
<line x1="580.5" y1="1341.3" x2="805.3" y2="1341.3" stroke="#FFFFFF" stroke-width="1.6"/>
<line x1="580.5" y1="1272.7" x2="805.3" y2="1272.7" stroke="#FFFFFF" stroke-width="1.6"/>
<line x1="580.5" y1="1204.1" x2="805.3" y2="1204.1" stroke="#FFFFFF" stroke-width="1.6"/>
<line x1="642.4" y1="1138.2" x2="642.4" y2="1416.1" stroke="#FFFFFF" stroke-width="1.6"/>
<line x1="744.6" y1="1138.2" x2="744.6" y2="1416.1" stroke="#FFFFFF" stroke-width="1.6"/>
<line x1="642.4" y1="1223.1" x2="642.4" y2="1275.8" stroke="#333333" stroke-width="1.3"/>
<line x1="642.4" y1="1347.2" x2="642.4" y2="1353.5" stroke="#333333" stroke-width="1.3"/>
<rect x="604.75" y="1275.8" width="75.3" height="71.4" fill="#E9746C" stroke="#333333" stroke-width="1.5"/>
<line x1="604.75" y1="1319.4" x2="680.05" y2="1319.4" stroke="#333333" stroke-width="3"/>
<rect x="706.95" y="1170.6" width="75.3" height="2.3" fill="#1BB5B9" stroke="#333333" stroke-width="1.5"/>
<line x1="706.95" y1="1171.8" x2="782.25" y2="1171.8" stroke="#333333" stroke-width="3"/>
<text transform="translate(738.49,1169.69) scale(1,1.000)" font-size="42.08" font-weight="bold" fill="#000">*</text>
<rect x="595" y="1416" width="210.3" height="1.4" fill="#EBEBEB"/>
<line x1="642.4" y1="1417.4" x2="642.4" y2="1421.9" stroke="#333333" stroke-width="1.5"/>
<text transform="translate(616.32,1440.2) scale(1,1.000)" font-size="16" font-weight="normal" fill="#4D4D4D">AdPCa</text>
<line x1="744.6" y1="1417.4" x2="744.6" y2="1421.9" stroke="#333333" stroke-width="1.5"/>
<text transform="translate(715.86,1440.2) scale(1,1.000)" font-size="16" font-weight="normal" fill="#4D4D4D">NEPCa</text>
<rect x="113.1" y="1449.3" width="223.7" height="10.3" fill="#D9D9D9"/>
<rect x="346.7" y="1449.3" width="224.2" height="10.3" fill="#D9D9D9"/>
<rect x="113.1" y="1459.6" width="223.7" height="275.6" fill="#EBEBEB"/>
<line x1="113.1" y1="1694.5" x2="336.8" y2="1694.5" stroke="#FFFFFF" stroke-width="1.2"/>
<line x1="113.1" y1="1626.5" x2="336.8" y2="1626.5" stroke="#FFFFFF" stroke-width="1.2"/>
<line x1="113.1" y1="1558.5" x2="336.8" y2="1558.5" stroke="#FFFFFF" stroke-width="1.2"/>
<line x1="113.1" y1="1490.5" x2="336.8" y2="1490.5" stroke="#FFFFFF" stroke-width="1.2"/>
<line x1="113.1" y1="1728.5" x2="336.8" y2="1728.5" stroke="#FFFFFF" stroke-width="1.6"/>
<line x1="113.1" y1="1660.5" x2="336.8" y2="1660.5" stroke="#FFFFFF" stroke-width="1.6"/>
<line x1="113.1" y1="1592.5" x2="336.8" y2="1592.5" stroke="#FFFFFF" stroke-width="1.6"/>
<line x1="113.1" y1="1524.5" x2="336.8" y2="1524.5" stroke="#FFFFFF" stroke-width="1.6"/>
<line x1="174.6" y1="1459.6" x2="174.6" y2="1735.2" stroke="#FFFFFF" stroke-width="1.6"/>
<line x1="276.7" y1="1459.6" x2="276.7" y2="1735.2" stroke="#FFFFFF" stroke-width="1.6"/>
<line x1="174.6" y1="1560.8" x2="174.6" y2="1615.7" stroke="#333333" stroke-width="1.3"/>
<line x1="174.6" y1="1696.3" x2="174.6" y2="1705.7" stroke="#333333" stroke-width="1.3"/>
<rect x="136.95" y="1615.7" width="75.3" height="80.6" fill="#E9746C" stroke="#333333" stroke-width="1.5"/>
<line x1="136.95" y1="1645.7" x2="212.25" y2="1645.7" stroke="#333333" stroke-width="3"/>
<line x1="276.7" y1="1491.2" x2="276.7" y2="1504.6" stroke="#333333" stroke-width="1.3"/>
<line x1="276.7" y1="1527.8" x2="276.7" y2="1552" stroke="#333333" stroke-width="1.3"/>
<rect x="239.05" y="1504.6" width="75.3" height="23.2" fill="#1BB5B9" stroke="#333333" stroke-width="1.5"/>
<line x1="239.05" y1="1513.5" x2="314.35" y2="1513.5" stroke="#333333" stroke-width="3"/>
<text transform="translate(266.79,1498.39) scale(1,1.000)" font-size="42.08" font-weight="bold" fill="#000">*</text>
<line x1="107.2" y1="1524.5" x2="113.1" y2="1524.5" stroke="#333333" stroke-width="1.5"/>
<text transform="translate(80.32,1531.57) scale(1,1.000)" font-size="16.5" font-weight="normal" fill="#4D4D4D">2.5</text>
<line x1="107.2" y1="1592.5" x2="113.1" y2="1592.5" stroke="#333333" stroke-width="1.5"/>
<text transform="translate(80.28,1599.57) scale(1,1.000)" font-size="16.5" font-weight="normal" fill="#4D4D4D">0.0</text>
<line x1="107.2" y1="1660.5" x2="113.1" y2="1660.5" stroke="#333333" stroke-width="1.5"/>
<text transform="translate(74.84,1667.57) scale(1,1.000)" font-size="16.5" font-weight="normal" fill="#4D4D4D">-2.5</text>
<line x1="107.2" y1="1728.5" x2="113.1" y2="1728.5" stroke="#333333" stroke-width="1.5"/>
<text transform="translate(74.8,1735.57) scale(1,1.000)" font-size="16.5" font-weight="normal" fill="#4D4D4D">-5.0</text>
<rect x="346.7" y="1459.6" width="224.2" height="275.6" fill="#EBEBEB"/>
<line x1="346.7" y1="1694.5" x2="570.9" y2="1694.5" stroke="#FFFFFF" stroke-width="1.2"/>
<line x1="346.7" y1="1626.5" x2="570.9" y2="1626.5" stroke="#FFFFFF" stroke-width="1.2"/>
<line x1="346.7" y1="1558.5" x2="570.9" y2="1558.5" stroke="#FFFFFF" stroke-width="1.2"/>
<line x1="346.7" y1="1490.5" x2="570.9" y2="1490.5" stroke="#FFFFFF" stroke-width="1.2"/>
<line x1="346.7" y1="1728.5" x2="570.9" y2="1728.5" stroke="#FFFFFF" stroke-width="1.6"/>
<line x1="346.7" y1="1660.5" x2="570.9" y2="1660.5" stroke="#FFFFFF" stroke-width="1.6"/>
<line x1="346.7" y1="1592.5" x2="570.9" y2="1592.5" stroke="#FFFFFF" stroke-width="1.6"/>
<line x1="346.7" y1="1524.5" x2="570.9" y2="1524.5" stroke="#FFFFFF" stroke-width="1.6"/>
<line x1="408.9" y1="1459.6" x2="408.9" y2="1735.2" stroke="#FFFFFF" stroke-width="1.6"/>
<line x1="510.3" y1="1459.6" x2="510.3" y2="1735.2" stroke="#FFFFFF" stroke-width="1.6"/>
<line x1="408.9" y1="1511.5" x2="408.9" y2="1537.4" stroke="#333333" stroke-width="1.3"/>
<line x1="408.9" y1="1606.5" x2="408.9" y2="1632.4" stroke="#333333" stroke-width="1.3"/>
<rect x="371.25" y="1537.4" width="75.3" height="69.1" fill="#E9746C" stroke="#333333" stroke-width="1.5"/>
<line x1="371.25" y1="1574.1" x2="446.55" y2="1574.1" stroke="#333333" stroke-width="3"/>
<line x1="510.3" y1="1472.2" x2="510.3" y2="1475" stroke="#333333" stroke-width="1.3"/>
<line x1="510.3" y1="1503.3" x2="510.3" y2="1506.8" stroke="#333333" stroke-width="1.3"/>
<rect x="472.65" y="1475" width="75.3" height="28.3" fill="#1BB5B9" stroke="#333333" stroke-width="1.5"/>
<line x1="472.65" y1="1488.4" x2="547.95" y2="1488.4" stroke="#333333" stroke-width="3"/>
<text transform="translate(501.59,1480.59) scale(1,1.000)" font-size="42.08" font-weight="bold" fill="#000">*</text>
<line x1="174.6" y1="1735.2" x2="174.6" y2="1741.2" stroke="#333333" stroke-width="1.5"/>
<text transform="translate(148.22,1761.3) scale(1,1.000)" font-size="16" font-weight="normal" fill="#4D4D4D">AdPCa</text>
<line x1="276.7" y1="1735.2" x2="276.7" y2="1741.2" stroke="#333333" stroke-width="1.5"/>
<text transform="translate(247.86,1761.3) scale(1,1.000)" font-size="16" font-weight="normal" fill="#4D4D4D">NEPCa</text>
<line x1="408.9" y1="1735.2" x2="408.9" y2="1741.2" stroke="#333333" stroke-width="1.5"/>
<text transform="translate(382.32,1761.3) scale(1,1.000)" font-size="16" font-weight="normal" fill="#4D4D4D">AdPCa</text>
<line x1="510.3" y1="1735.2" x2="510.3" y2="1741.2" stroke="#333333" stroke-width="1.5"/>
<text transform="translate(481.76,1761.3) scale(1,1.000)" font-size="16" font-weight="normal" fill="#4D4D4D">NEPCa</text>
<text transform="translate(47.7,1375.1) rotate(-90) scale(1,1.094)" font-size="47.44" font-weight="bold" fill="#000">GSE66187</text>
<text transform="translate(67.7,1462.65) rotate(-90) scale(1,1.025)" font-size="19.91" font-weight="normal" fill="#111">value</text>
<text transform="translate(136.28,1137.7) scale(1,0.984)" font-size="43.26" font-weight="bold" fill="#000">HOXB13</text>
<text transform="translate(381.08,1137.7) scale(1,0.985)" font-size="43.23" font-weight="bold" fill="#000">HOXB3</text>
<text transform="translate(625.57,1137.7) scale(1,0.980)" font-size="43.43" font-weight="bold" fill="#000">HOXB5</text>
<text transform="translate(150.96,1453) scale(1,1.015)" font-size="43.5" font-weight="bold" fill="#000">HOXB6</text>
<text transform="translate(395.56,1453) scale(1,1.012)" font-size="43.63" font-weight="bold" fill="#000">HOXB7</text>
<rect x="619.2" y="1531.1" width="52" height="51.3" fill="#F1F1F1"/>
<line x1="644.2" y1="1533.66" x2="644.2" y2="1579.84" stroke="#333333" stroke-width="2.3"/>
<rect x="623" y="1543.92" width="42.4" height="25.65" fill="#E9746C" stroke="#333333" stroke-width="2.3"/>
<line x1="623" y1="1556.75" x2="665.4" y2="1556.75" stroke="#333333" stroke-width="2.6"/>
<text transform="translate(684.33,1571.3) scale(1,1.040)" font-size="42.8" font-weight="bold" fill="#000">AdPCa</text>
<rect x="619.2" y="1585.4" width="52" height="51.2" fill="#F1F1F1"/>
<line x1="644.2" y1="1587.96" x2="644.2" y2="1634.04" stroke="#333333" stroke-width="2.3"/>
<rect x="623" y="1598.2" width="42.4" height="25.6" fill="#1BB5B9" stroke="#333333" stroke-width="2.3"/>
<line x1="623" y1="1611" x2="665.4" y2="1611" stroke="#333333" stroke-width="2.6"/>
<text transform="translate(684.33,1623.5) scale(1,1.040)" font-size="42.8" font-weight="bold" fill="#000">NEPCa</text>
<rect x="1132.1" y="1107.2" width="151.9" height="306.7" fill="#EBEBEB"/>
<line x1="1132.1" y1="1410.22" x2="1284" y2="1410.22" stroke="#FFFFFF" stroke-width="1"/>
<line x1="1132.1" y1="1338.98" x2="1284" y2="1338.98" stroke="#FFFFFF" stroke-width="1"/>
<line x1="1132.1" y1="1267.75" x2="1284" y2="1267.75" stroke="#FFFFFF" stroke-width="1"/>
<line x1="1132.1" y1="1196.52" x2="1284" y2="1196.52" stroke="#FFFFFF" stroke-width="1"/>
<line x1="1132.1" y1="1125.28" x2="1284" y2="1125.28" stroke="#FFFFFF" stroke-width="1"/>
<line x1="1132.1" y1="1374.6" x2="1284" y2="1374.6" stroke="#FFFFFF" stroke-width="1.4"/>
<line x1="1132.1" y1="1303.37" x2="1284" y2="1303.37" stroke="#FFFFFF" stroke-width="1.4"/>
<line x1="1132.1" y1="1232.13" x2="1284" y2="1232.13" stroke="#FFFFFF" stroke-width="1.4"/>
<line x1="1132.1" y1="1160.9" x2="1284" y2="1160.9" stroke="#FFFFFF" stroke-width="1.4"/>
<line x1="1174.9" y1="1107.2" x2="1174.9" y2="1413.9" stroke="#FFFFFF" stroke-width="1.4"/>
<line x1="1242.6" y1="1107.2" x2="1242.6" y2="1413.9" stroke="#FFFFFF" stroke-width="1.4"/>
<line x1="1174.9" y1="1114.4" x2="1174.9" y2="1119.5" stroke="#333333" stroke-width="1.1"/>
<line x1="1174.9" y1="1145.4" x2="1174.9" y2="1152.1" stroke="#333333" stroke-width="1.1"/>
<rect x="1149.15" y="1119.5" width="51.5" height="25.9" fill="#E9746C" stroke="#333333" stroke-width="1.2"/>
<line x1="1149.15" y1="1141.7" x2="1200.65" y2="1141.7" stroke="#333333" stroke-width="2.4"/>
<line x1="1242.6" y1="1264.1" x2="1242.6" y2="1281.2" stroke="#333333" stroke-width="1.1"/>
<line x1="1242.6" y1="1298.3" x2="1242.6" y2="1305" stroke="#333333" stroke-width="1.1"/>
<rect x="1216.85" y="1281.2" width="51.5" height="17.1" fill="#1BB5B9" stroke="#333333" stroke-width="1.2"/>
<line x1="1216.85" y1="1290.5" x2="1268.35" y2="1290.5" stroke="#333333" stroke-width="2.4"/>
<text transform="translate(1234.49,1268.17) scale(1,1.000)" font-size="43.64" font-weight="bold" fill="#000">*</text>
<line x1="1128.5" y1="1374.6" x2="1132.1" y2="1374.6" stroke="#333333" stroke-width="1"/>
<text transform="translate(1120.06,1379.99) scale(1,1.000)" font-size="11.6" font-weight="normal" fill="#4D4D4D">6</text>
<line x1="1128.5" y1="1303.37" x2="1132.1" y2="1303.37" stroke="#333333" stroke-width="1"/>
<text transform="translate(1120.06,1308.75) scale(1,1.000)" font-size="11.6" font-weight="normal" fill="#4D4D4D">8</text>
<line x1="1128.5" y1="1232.13" x2="1132.1" y2="1232.13" stroke="#333333" stroke-width="1"/>
<text transform="translate(1113.56,1237.52) scale(1,1.000)" font-size="11.6" font-weight="normal" fill="#4D4D4D">10</text>
<line x1="1128.5" y1="1160.9" x2="1132.1" y2="1160.9" stroke="#333333" stroke-width="1"/>
<text transform="translate(1113.7,1166.35) scale(1,1.000)" font-size="11.6" font-weight="normal" fill="#4D4D4D">12</text>
<rect x="1290" y="1107.2" width="152.3" height="306.7" fill="#EBEBEB"/>
<line x1="1290" y1="1410.22" x2="1442.3" y2="1410.22" stroke="#FFFFFF" stroke-width="1"/>
<line x1="1290" y1="1338.98" x2="1442.3" y2="1338.98" stroke="#FFFFFF" stroke-width="1"/>
<line x1="1290" y1="1267.75" x2="1442.3" y2="1267.75" stroke="#FFFFFF" stroke-width="1"/>
<line x1="1290" y1="1196.52" x2="1442.3" y2="1196.52" stroke="#FFFFFF" stroke-width="1"/>
<line x1="1290" y1="1125.28" x2="1442.3" y2="1125.28" stroke="#FFFFFF" stroke-width="1"/>
<line x1="1290" y1="1374.6" x2="1442.3" y2="1374.6" stroke="#FFFFFF" stroke-width="1.4"/>
<line x1="1290" y1="1303.37" x2="1442.3" y2="1303.37" stroke="#FFFFFF" stroke-width="1.4"/>
<line x1="1290" y1="1232.13" x2="1442.3" y2="1232.13" stroke="#FFFFFF" stroke-width="1.4"/>
<line x1="1290" y1="1160.9" x2="1442.3" y2="1160.9" stroke="#FFFFFF" stroke-width="1.4"/>
<line x1="1332.3" y1="1107.2" x2="1332.3" y2="1413.9" stroke="#FFFFFF" stroke-width="1.4"/>
<line x1="1401.4" y1="1107.2" x2="1401.4" y2="1413.9" stroke="#FFFFFF" stroke-width="1.4"/>
<line x1="1332.3" y1="1346.9" x2="1332.3" y2="1360.5" stroke="#333333" stroke-width="1.1"/>
<rect x="1306.55" y="1332.4" width="51.5" height="14.5" fill="#E9746C" stroke="#333333" stroke-width="1.2"/>
<line x1="1306.55" y1="1343.1" x2="1358.05" y2="1343.1" stroke="#333333" stroke-width="2.4"/>
<circle cx="1332.3" cy="1302.9" r="2.6" fill="#333333"/>
<line x1="1401.4" y1="1150" x2="1401.4" y2="1200.5" stroke="#333333" stroke-width="1.1"/>
<line x1="1401.4" y1="1276.1" x2="1401.4" y2="1302.9" stroke="#333333" stroke-width="1.1"/>
<rect x="1375.65" y="1200.5" width="51.5" height="75.6" fill="#1BB5B9" stroke="#333333" stroke-width="1.2"/>
<line x1="1375.65" y1="1209.3" x2="1427.15" y2="1209.3" stroke="#333333" stroke-width="2.4"/>
<text transform="translate(1392.69,1155.17) scale(1,1.000)" font-size="43.64" font-weight="bold" fill="#000">*</text>
<rect x="1449.6" y="1107.2" width="151.8" height="306.7" fill="#EBEBEB"/>
<line x1="1449.6" y1="1410.22" x2="1601.4" y2="1410.22" stroke="#FFFFFF" stroke-width="1"/>
<line x1="1449.6" y1="1338.98" x2="1601.4" y2="1338.98" stroke="#FFFFFF" stroke-width="1"/>
<line x1="1449.6" y1="1267.75" x2="1601.4" y2="1267.75" stroke="#FFFFFF" stroke-width="1"/>
<line x1="1449.6" y1="1196.52" x2="1601.4" y2="1196.52" stroke="#FFFFFF" stroke-width="1"/>
<line x1="1449.6" y1="1125.28" x2="1601.4" y2="1125.28" stroke="#FFFFFF" stroke-width="1"/>
<line x1="1449.6" y1="1374.6" x2="1601.4" y2="1374.6" stroke="#FFFFFF" stroke-width="1.4"/>
<line x1="1449.6" y1="1303.37" x2="1601.4" y2="1303.37" stroke="#FFFFFF" stroke-width="1.4"/>
<line x1="1449.6" y1="1232.13" x2="1601.4" y2="1232.13" stroke="#FFFFFF" stroke-width="1.4"/>
<line x1="1449.6" y1="1160.9" x2="1601.4" y2="1160.9" stroke="#FFFFFF" stroke-width="1.4"/>
<line x1="1490.8" y1="1107.2" x2="1490.8" y2="1413.9" stroke="#FFFFFF" stroke-width="1.4"/>
<line x1="1559.9" y1="1107.2" x2="1559.9" y2="1413.9" stroke="#FFFFFF" stroke-width="1.4"/>
<line x1="1490.8" y1="1275.2" x2="1490.8" y2="1277.3" stroke="#333333" stroke-width="1.1"/>
<line x1="1490.8" y1="1281.4" x2="1490.8" y2="1286.5" stroke="#333333" stroke-width="1.1"/>
<rect x="1465.05" y="1277.3" width="51.5" height="4.1" fill="#E9746C" stroke="#333333" stroke-width="1.2"/>
<line x1="1465.05" y1="1280.3" x2="1516.55" y2="1280.3" stroke="#333333" stroke-width="2.4"/>
<circle cx="1490.8" cy="1262" r="2.6" fill="#333333"/>
<line x1="1559.9" y1="1160.1" x2="1559.9" y2="1214.9" stroke="#333333" stroke-width="1.1"/>
<line x1="1559.9" y1="1267.7" x2="1559.9" y2="1287.8" stroke="#333333" stroke-width="1.1"/>
<rect x="1534.15" y="1214.9" width="51.5" height="52.8" fill="#1BB5B9" stroke="#333333" stroke-width="1.2"/>
<line x1="1534.15" y1="1232.1" x2="1585.65" y2="1232.1" stroke="#333333" stroke-width="2.4"/>
<text transform="translate(1550.99,1163.07) scale(1,1.000)" font-size="43.64" font-weight="bold" fill="#000">*</text>
<line x1="1490.8" y1="1413.9" x2="1490.8" y2="1418" stroke="#333333" stroke-width="1"/>
<text transform="translate(1472.97,1430.6) scale(1,1.000)" font-size="10.8" font-weight="normal" fill="#4D4D4D">AdPCa</text>
<line x1="1559.9" y1="1413.9" x2="1559.9" y2="1418" stroke="#333333" stroke-width="1"/>
<text transform="translate(1540.55,1430.6) scale(1,1.000)" font-size="10.8" font-weight="normal" fill="#4D4D4D">NEPCa</text>
<rect x="1132.1" y="1408.6" width="333.9" height="32.4" fill="#FFFFFF"/>
<rect x="1132.1" y="1441" width="151.9" height="315.9" fill="#EBEBEB"/>
<line x1="1132.1" y1="1752.08" x2="1284" y2="1752.08" stroke="#FFFFFF" stroke-width="1"/>
<line x1="1132.1" y1="1681.12" x2="1284" y2="1681.12" stroke="#FFFFFF" stroke-width="1"/>
<line x1="1132.1" y1="1610.15" x2="1284" y2="1610.15" stroke="#FFFFFF" stroke-width="1"/>
<line x1="1132.1" y1="1539.18" x2="1284" y2="1539.18" stroke="#FFFFFF" stroke-width="1"/>
<line x1="1132.1" y1="1468.22" x2="1284" y2="1468.22" stroke="#FFFFFF" stroke-width="1"/>
<line x1="1132.1" y1="1716.6" x2="1284" y2="1716.6" stroke="#FFFFFF" stroke-width="1.4"/>
<line x1="1132.1" y1="1645.63" x2="1284" y2="1645.63" stroke="#FFFFFF" stroke-width="1.4"/>
<line x1="1132.1" y1="1574.67" x2="1284" y2="1574.67" stroke="#FFFFFF" stroke-width="1.4"/>
<line x1="1132.1" y1="1503.7" x2="1284" y2="1503.7" stroke="#FFFFFF" stroke-width="1.4"/>
<line x1="1174.2" y1="1441" x2="1174.2" y2="1756.9" stroke="#FFFFFF" stroke-width="1.4"/>
<line x1="1242.5" y1="1441" x2="1242.5" y2="1756.9" stroke="#FFFFFF" stroke-width="1.4"/>
<line x1="1174.2" y1="1692.6" x2="1174.2" y2="1698.8" stroke="#333333" stroke-width="1.1"/>
<line x1="1174.2" y1="1708" x2="1174.2" y2="1713.7" stroke="#333333" stroke-width="1.1"/>
<rect x="1148.45" y="1698.8" width="51.5" height="9.2" fill="#E9746C" stroke="#333333" stroke-width="1.2"/>
<line x1="1148.45" y1="1702.6" x2="1199.95" y2="1702.6" stroke="#333333" stroke-width="2.4"/>
<line x1="1242.5" y1="1550.3" x2="1242.5" y2="1574.2" stroke="#333333" stroke-width="1.1"/>
<line x1="1242.5" y1="1708" x2="1242.5" y2="1742.5" stroke="#333333" stroke-width="1.1"/>
<rect x="1216.75" y="1574.2" width="51.5" height="133.8" fill="#1BB5B9" stroke="#333333" stroke-width="1.2"/>
<line x1="1216.75" y1="1602.8" x2="1268.25" y2="1602.8" stroke="#333333" stroke-width="2.4"/>
<text transform="translate(1234.39,1554.07) scale(1,1.000)" font-size="43.64" font-weight="bold" fill="#000">*</text>
<line x1="1127.7" y1="1716.6" x2="1132.1" y2="1716.6" stroke="#333333" stroke-width="1"/>
<text transform="translate(1119.25,1721.99) scale(1,1.000)" font-size="11.6" font-weight="normal" fill="#4D4D4D">6</text>
<line x1="1127.7" y1="1645.63" x2="1132.1" y2="1645.63" stroke="#333333" stroke-width="1"/>
<text transform="translate(1119.25,1651.02) scale(1,1.000)" font-size="11.6" font-weight="normal" fill="#4D4D4D">8</text>
<line x1="1127.7" y1="1574.67" x2="1132.1" y2="1574.67" stroke="#333333" stroke-width="1"/>
<text transform="translate(1112.76,1580.05) scale(1,1.000)" font-size="11.6" font-weight="normal" fill="#4D4D4D">10</text>
<line x1="1127.7" y1="1503.7" x2="1132.1" y2="1503.7" stroke="#333333" stroke-width="1"/>
<text transform="translate(1112.9,1509.15) scale(1,1.000)" font-size="11.6" font-weight="normal" fill="#4D4D4D">12</text>
<rect x="1290.6" y="1441" width="151.9" height="315.9" fill="#EBEBEB"/>
<line x1="1290.6" y1="1752.08" x2="1442.5" y2="1752.08" stroke="#FFFFFF" stroke-width="1"/>
<line x1="1290.6" y1="1681.12" x2="1442.5" y2="1681.12" stroke="#FFFFFF" stroke-width="1"/>
<line x1="1290.6" y1="1610.15" x2="1442.5" y2="1610.15" stroke="#FFFFFF" stroke-width="1"/>
<line x1="1290.6" y1="1539.18" x2="1442.5" y2="1539.18" stroke="#FFFFFF" stroke-width="1"/>
<line x1="1290.6" y1="1468.22" x2="1442.5" y2="1468.22" stroke="#FFFFFF" stroke-width="1"/>
<line x1="1290.6" y1="1716.6" x2="1442.5" y2="1716.6" stroke="#FFFFFF" stroke-width="1.4"/>
<line x1="1290.6" y1="1645.63" x2="1442.5" y2="1645.63" stroke="#FFFFFF" stroke-width="1.4"/>
<line x1="1290.6" y1="1574.67" x2="1442.5" y2="1574.67" stroke="#FFFFFF" stroke-width="1.4"/>
<line x1="1290.6" y1="1503.7" x2="1442.5" y2="1503.7" stroke="#FFFFFF" stroke-width="1.4"/>
<line x1="1332.7" y1="1441" x2="1332.7" y2="1756.9" stroke="#FFFFFF" stroke-width="1.4"/>
<line x1="1401.5" y1="1441" x2="1401.5" y2="1756.9" stroke="#FFFFFF" stroke-width="1.4"/>
<line x1="1332.7" y1="1618.4" x2="1332.7" y2="1624.1" stroke="#333333" stroke-width="1.1"/>
<line x1="1332.7" y1="1668.1" x2="1332.7" y2="1674.9" stroke="#333333" stroke-width="1.1"/>
<rect x="1306.95" y="1624.1" width="51.5" height="44" fill="#E9746C" stroke="#333333" stroke-width="1.2"/>
<line x1="1306.95" y1="1662.2" x2="1358.45" y2="1662.2" stroke="#333333" stroke-width="2.4"/>
<line x1="1401.5" y1="1555.2" x2="1401.5" y2="1569.5" stroke="#333333" stroke-width="1.1"/>
<line x1="1401.5" y1="1609.6" x2="1401.5" y2="1614.6" stroke="#333333" stroke-width="1.1"/>
<rect x="1375.75" y="1569.5" width="51.5" height="40.1" fill="#1BB5B9" stroke="#333333" stroke-width="1.2"/>
<line x1="1375.75" y1="1590" x2="1427.25" y2="1590" stroke="#333333" stroke-width="2.4"/>
<text transform="translate(1392.69,1553.17) scale(1,1.000)" font-size="43.64" font-weight="bold" fill="#000">*</text>
<line x1="1174.2" y1="1756.9" x2="1174.2" y2="1760.4" stroke="#333333" stroke-width="1"/>
<text transform="translate(1156.77,1773.5) scale(1,1.000)" font-size="10.8" font-weight="normal" fill="#4D4D4D">AdPCa</text>
<line x1="1242.5" y1="1756.9" x2="1242.5" y2="1760.4" stroke="#333333" stroke-width="1"/>
<text transform="translate(1223.45,1773.5) scale(1,1.000)" font-size="10.8" font-weight="normal" fill="#4D4D4D">NEPCa</text>
<line x1="1332.7" y1="1756.9" x2="1332.7" y2="1760.4" stroke="#333333" stroke-width="1"/>
<text transform="translate(1315.07,1773.5) scale(1,1.000)" font-size="10.8" font-weight="normal" fill="#4D4D4D">AdPCa</text>
<line x1="1401.5" y1="1756.9" x2="1401.5" y2="1760.4" stroke="#333333" stroke-width="1"/>
<text transform="translate(1382.25,1773.5) scale(1,1.000)" font-size="10.8" font-weight="normal" fill="#4D4D4D">NEPCa</text>
<text transform="translate(1073.2,1362.9) rotate(-90) scale(1,1.099)" font-size="47.61" font-weight="bold" fill="#000">GSE32967</text>
<text transform="translate(1108.7,1445.73) rotate(-90) scale(1,1.051)" font-size="13.52" font-weight="normal" fill="#111">value</text>
<text transform="translate(1125.07,1106.2) scale(1,1.013)" font-size="43.46" font-weight="bold" fill="#000">HOXB13</text>
<text transform="translate(1310.17,1106.2) scale(1,1.015)" font-size="43.35" font-weight="bold" fill="#000">HOXB3</text>
<text transform="translate(1470.79,1106.2) scale(1,1.021)" font-size="43.1" font-weight="bold" fill="#000">HOXB5</text>
<text transform="translate(1136.97,1441) scale(1,1.003)" font-size="43.44" font-weight="bold" fill="#000">HOXB6</text>
<text transform="translate(1297.31,1441) scale(1,1.019)" font-size="42.79" font-weight="bold" fill="#000">HOXB7</text>
<rect x="1586.3" y="1544" width="51.7" height="51.3" fill="#F1F1F1"/>
<line x1="1611.2" y1="1546.57" x2="1611.2" y2="1592.73" stroke="#333333" stroke-width="2.3"/>
<rect x="1590" y="1556.83" width="42.4" height="25.65" fill="#E9746C" stroke="#333333" stroke-width="2.3"/>
<line x1="1590" y1="1569.65" x2="1632.4" y2="1569.65" stroke="#333333" stroke-width="2.6"/>
<text transform="translate(1651.43,1584.4) scale(1,1.040)" font-size="42.8" font-weight="bold" fill="#000">AdPCa</text>
<rect x="1586.3" y="1598.3" width="51.7" height="51.1" fill="#F1F1F1"/>
<line x1="1611.2" y1="1600.86" x2="1611.2" y2="1646.85" stroke="#333333" stroke-width="2.3"/>
<rect x="1590" y="1611.08" width="42.4" height="25.55" fill="#1BB5B9" stroke="#333333" stroke-width="2.3"/>
<line x1="1590" y1="1623.85" x2="1632.4" y2="1623.85" stroke="#333333" stroke-width="2.6"/>
<text transform="translate(1651.43,1636.1) scale(1,1.040)" font-size="42.8" font-weight="bold" fill="#000">NEPCa</text>
<rect x="557" y="1809.3" width="175.8" height="365.4" fill="#EBEBEB"/>
<line x1="557" y1="2143.82" x2="732.8" y2="2143.82" stroke="#FFFFFF" stroke-width="1.1"/>
<line x1="557" y1="2055.18" x2="732.8" y2="2055.18" stroke="#FFFFFF" stroke-width="1.1"/>
<line x1="557" y1="1966.55" x2="732.8" y2="1966.55" stroke="#FFFFFF" stroke-width="1.1"/>
<line x1="557" y1="1877.92" x2="732.8" y2="1877.92" stroke="#FFFFFF" stroke-width="1.1"/>
<line x1="557" y1="2099.5" x2="732.8" y2="2099.5" stroke="#FFFFFF" stroke-width="1.5"/>
<line x1="557" y1="2010.87" x2="732.8" y2="2010.87" stroke="#FFFFFF" stroke-width="1.5"/>
<line x1="557" y1="1922.23" x2="732.8" y2="1922.23" stroke="#FFFFFF" stroke-width="1.5"/>
<line x1="557" y1="1833.6" x2="732.8" y2="1833.6" stroke="#FFFFFF" stroke-width="1.5"/>
<line x1="606.4" y1="1809.3" x2="606.4" y2="2174.7" stroke="#FFFFFF" stroke-width="1.5"/>
<line x1="685.5" y1="1809.3" x2="685.5" y2="2174.7" stroke="#FFFFFF" stroke-width="1.5"/>
<line x1="606.4" y1="1828.2" x2="606.4" y2="1841.4" stroke="#333333" stroke-width="1.2"/>
<line x1="606.4" y1="1865" x2="606.4" y2="1882.9" stroke="#333333" stroke-width="1.2"/>
<rect x="576.65" y="1841.4" width="59.5" height="23.6" fill="#E9746C" stroke="#333333" stroke-width="1.3"/>
<line x1="576.65" y1="1847" x2="636.15" y2="1847" stroke="#333333" stroke-width="2.6"/>
<line x1="685.5" y1="1919" x2="685.5" y2="1929.1" stroke="#333333" stroke-width="1.2"/>
<line x1="685.5" y1="1990.8" x2="685.5" y2="2042.3" stroke="#333333" stroke-width="1.2"/>
<rect x="655.75" y="1929.1" width="59.5" height="61.7" fill="#1BB5B9" stroke="#333333" stroke-width="1.3"/>
<line x1="655.75" y1="1938.6" x2="715.25" y2="1938.6" stroke="#333333" stroke-width="2.6"/>
<text transform="translate(677.04,1923.38) scale(1,1.000)" font-size="42.86" font-weight="bold" fill="#000">*</text>
<line x1="552.6" y1="2099.5" x2="557" y2="2099.5" stroke="#333333" stroke-width="1.1"/>
<text transform="translate(542.44,2105.34) scale(1,1.000)" font-size="13.2" font-weight="normal" fill="#4D4D4D">4</text>
<line x1="552.6" y1="2010.87" x2="557" y2="2010.87" stroke="#333333" stroke-width="1.1"/>
<text transform="translate(542.63,2016.7) scale(1,1.000)" font-size="13.2" font-weight="normal" fill="#4D4D4D">8</text>
<line x1="552.6" y1="1922.23" x2="557" y2="1922.23" stroke="#333333" stroke-width="1.1"/>
<text transform="translate(535.41,1928.14) scale(1,1.000)" font-size="13.2" font-weight="normal" fill="#4D4D4D">12</text>
<line x1="552.6" y1="1833.6" x2="557" y2="1833.6" stroke="#333333" stroke-width="1.1"/>
<text transform="translate(535.31,1839.44) scale(1,1.000)" font-size="13.2" font-weight="normal" fill="#4D4D4D">16</text>
<rect x="740.5" y="1809.3" width="176.2" height="365.4" fill="#EBEBEB"/>
<line x1="740.5" y1="2143.82" x2="916.7" y2="2143.82" stroke="#FFFFFF" stroke-width="1.1"/>
<line x1="740.5" y1="2055.18" x2="916.7" y2="2055.18" stroke="#FFFFFF" stroke-width="1.1"/>
<line x1="740.5" y1="1966.55" x2="916.7" y2="1966.55" stroke="#FFFFFF" stroke-width="1.1"/>
<line x1="740.5" y1="1877.92" x2="916.7" y2="1877.92" stroke="#FFFFFF" stroke-width="1.1"/>
<line x1="740.5" y1="2099.5" x2="916.7" y2="2099.5" stroke="#FFFFFF" stroke-width="1.5"/>
<line x1="740.5" y1="2010.87" x2="916.7" y2="2010.87" stroke="#FFFFFF" stroke-width="1.5"/>
<line x1="740.5" y1="1922.23" x2="916.7" y2="1922.23" stroke="#FFFFFF" stroke-width="1.5"/>
<line x1="740.5" y1="1833.6" x2="916.7" y2="1833.6" stroke="#FFFFFF" stroke-width="1.5"/>
<line x1="789.7" y1="1809.3" x2="789.7" y2="2174.7" stroke="#FFFFFF" stroke-width="1.5"/>
<line x1="869.9" y1="1809.3" x2="869.9" y2="2174.7" stroke="#FFFFFF" stroke-width="1.5"/>
<line x1="789.7" y1="2039.6" x2="789.7" y2="2064.1" stroke="#333333" stroke-width="1.2"/>
<line x1="789.7" y1="2104.5" x2="789.7" y2="2158.9" stroke="#333333" stroke-width="1.2"/>
<rect x="759.95" y="2064.1" width="59.5" height="40.4" fill="#E9746C" stroke="#333333" stroke-width="1.3"/>
<line x1="759.95" y1="2078.7" x2="819.45" y2="2078.7" stroke="#333333" stroke-width="2.6"/>
<line x1="869.9" y1="1988.1" x2="869.9" y2="1993.4" stroke="#333333" stroke-width="1.2"/>
<line x1="869.9" y1="1999.9" x2="869.9" y2="2000.5" stroke="#333333" stroke-width="1.2"/>
<rect x="840.15" y="1993.4" width="59.5" height="6.5" fill="#1BB5B9" stroke="#333333" stroke-width="1.3"/>
<line x1="840.15" y1="1997.5" x2="899.65" y2="1997.5" stroke="#333333" stroke-width="2.6"/>
<text transform="translate(863.44,1985.38) scale(1,1.000)" font-size="42.86" font-weight="bold" fill="#000">*</text>
<rect x="925.4" y="1809.3" width="175.9" height="365.4" fill="#EBEBEB"/>
<line x1="925.4" y1="2143.82" x2="1101.3" y2="2143.82" stroke="#FFFFFF" stroke-width="1.1"/>
<line x1="925.4" y1="2055.18" x2="1101.3" y2="2055.18" stroke="#FFFFFF" stroke-width="1.1"/>
<line x1="925.4" y1="1966.55" x2="1101.3" y2="1966.55" stroke="#FFFFFF" stroke-width="1.1"/>
<line x1="925.4" y1="1877.92" x2="1101.3" y2="1877.92" stroke="#FFFFFF" stroke-width="1.1"/>
<line x1="925.4" y1="2099.5" x2="1101.3" y2="2099.5" stroke="#FFFFFF" stroke-width="1.5"/>
<line x1="925.4" y1="2010.87" x2="1101.3" y2="2010.87" stroke="#FFFFFF" stroke-width="1.5"/>
<line x1="925.4" y1="1922.23" x2="1101.3" y2="1922.23" stroke="#FFFFFF" stroke-width="1.5"/>
<line x1="925.4" y1="1833.6" x2="1101.3" y2="1833.6" stroke="#FFFFFF" stroke-width="1.5"/>
<line x1="973.3" y1="1809.3" x2="973.3" y2="2174.7" stroke="#FFFFFF" stroke-width="1.5"/>
<line x1="1053.6" y1="1809.3" x2="1053.6" y2="2174.7" stroke="#FFFFFF" stroke-width="1.5"/>
<line x1="973.3" y1="1964" x2="973.3" y2="2013.3" stroke="#333333" stroke-width="1.2"/>
<line x1="973.3" y1="2074.8" x2="973.3" y2="2098.8" stroke="#333333" stroke-width="1.2"/>
<rect x="943.55" y="2013.3" width="59.5" height="61.5" fill="#E9746C" stroke="#333333" stroke-width="1.3"/>
<line x1="943.55" y1="2048.5" x2="1003.05" y2="2048.5" stroke="#333333" stroke-width="2.6"/>
<line x1="1053.6" y1="1951.4" x2="1053.6" y2="1956.4" stroke="#333333" stroke-width="1.2"/>
<line x1="1053.6" y1="2016.8" x2="1053.6" y2="2071.2" stroke="#333333" stroke-width="1.2"/>
<rect x="1023.85" y="1956.4" width="59.5" height="60.4" fill="#1BB5B9" stroke="#333333" stroke-width="1.3"/>
<line x1="1023.85" y1="1960.5" x2="1083.35" y2="1960.5" stroke="#333333" stroke-width="2.6"/>
<line x1="973.3" y1="2174.7" x2="973.3" y2="2179.3" stroke="#333333" stroke-width="1.1"/>
<text transform="translate(952.93,2194) scale(1,1.000)" font-size="12.4" font-weight="normal" fill="#4D4D4D">AdPCa</text>
<line x1="1053.6" y1="2174.7" x2="1053.6" y2="2179.3" stroke="#333333" stroke-width="1.1"/>
<text transform="translate(1031.11,2194) scale(1,1.000)" font-size="12.4" font-weight="normal" fill="#4D4D4D">NEPCa</text>
<rect x="557" y="1809.3" width="175.8" height="1.6" fill="#DCDCDC"/>
<rect x="740.5" y="1809.3" width="176.2" height="1.6" fill="#DCDCDC"/>
<rect x="925.4" y="1809.3" width="175.9" height="1.6" fill="#DCDCDC"/>
<rect x="557" y="2215.5" width="175.8" height="356.1" fill="#EBEBEB"/>
<line x1="557" y1="2539.22" x2="732.8" y2="2539.22" stroke="#FFFFFF" stroke-width="1.1"/>
<line x1="557" y1="2450.98" x2="732.8" y2="2450.98" stroke="#FFFFFF" stroke-width="1.1"/>
<line x1="557" y1="2362.75" x2="732.8" y2="2362.75" stroke="#FFFFFF" stroke-width="1.1"/>
<line x1="557" y1="2274.52" x2="732.8" y2="2274.52" stroke="#FFFFFF" stroke-width="1.1"/>
<line x1="557" y1="2495.1" x2="732.8" y2="2495.1" stroke="#FFFFFF" stroke-width="1.5"/>
<line x1="557" y1="2406.87" x2="732.8" y2="2406.87" stroke="#FFFFFF" stroke-width="1.5"/>
<line x1="557" y1="2318.63" x2="732.8" y2="2318.63" stroke="#FFFFFF" stroke-width="1.5"/>
<line x1="557" y1="2230.4" x2="732.8" y2="2230.4" stroke="#FFFFFF" stroke-width="1.5"/>
<line x1="606.4" y1="2215.5" x2="606.4" y2="2571.6" stroke="#FFFFFF" stroke-width="1.5"/>
<line x1="685.3" y1="2215.5" x2="685.3" y2="2571.6" stroke="#FFFFFF" stroke-width="1.5"/>
<line x1="606.4" y1="2295.8" x2="606.4" y2="2358.6" stroke="#333333" stroke-width="1.2"/>
<line x1="606.4" y1="2410.9" x2="606.4" y2="2432.1" stroke="#333333" stroke-width="1.2"/>
<rect x="576.65" y="2358.6" width="59.5" height="52.3" fill="#E9746C" stroke="#333333" stroke-width="1.3"/>
<line x1="576.65" y1="2395.6" x2="636.15" y2="2395.6" stroke="#333333" stroke-width="2.6"/>
<line x1="685.3" y1="2291.3" x2="685.3" y2="2295.8" stroke="#333333" stroke-width="1.2"/>
<line x1="685.3" y1="2358.7" x2="685.3" y2="2419.4" stroke="#333333" stroke-width="1.2"/>
<rect x="655.55" y="2295.8" width="59.5" height="62.9" fill="#1BB5B9" stroke="#333333" stroke-width="1.3"/>
<line x1="655.55" y1="2298.4" x2="715.05" y2="2298.4" stroke="#333333" stroke-width="2.6"/>
<line x1="551.7" y1="2495.1" x2="557" y2="2495.1" stroke="#333333" stroke-width="1.1"/>
<text transform="translate(542.74,2500.94) scale(1,1.000)" font-size="13.2" font-weight="normal" fill="#4D4D4D">4</text>
<line x1="551.7" y1="2406.87" x2="557" y2="2406.87" stroke="#333333" stroke-width="1.1"/>
<text transform="translate(542.94,2412.7) scale(1,1.000)" font-size="13.2" font-weight="normal" fill="#4D4D4D">8</text>
<line x1="551.7" y1="2318.63" x2="557" y2="2318.63" stroke="#333333" stroke-width="1.1"/>
<text transform="translate(535.71,2324.54) scale(1,1.000)" font-size="13.2" font-weight="normal" fill="#4D4D4D">12</text>
<line x1="551.7" y1="2230.4" x2="557" y2="2230.4" stroke="#333333" stroke-width="1.1"/>
<text transform="translate(535.61,2236.24) scale(1,1.000)" font-size="13.2" font-weight="normal" fill="#4D4D4D">16</text>
<rect x="740.5" y="2215.5" width="176.2" height="356.1" fill="#EBEBEB"/>
<line x1="740.5" y1="2539.22" x2="916.7" y2="2539.22" stroke="#FFFFFF" stroke-width="1.1"/>
<line x1="740.5" y1="2450.98" x2="916.7" y2="2450.98" stroke="#FFFFFF" stroke-width="1.1"/>
<line x1="740.5" y1="2362.75" x2="916.7" y2="2362.75" stroke="#FFFFFF" stroke-width="1.1"/>
<line x1="740.5" y1="2274.52" x2="916.7" y2="2274.52" stroke="#FFFFFF" stroke-width="1.1"/>
<line x1="740.5" y1="2495.1" x2="916.7" y2="2495.1" stroke="#FFFFFF" stroke-width="1.5"/>
<line x1="740.5" y1="2406.87" x2="916.7" y2="2406.87" stroke="#FFFFFF" stroke-width="1.5"/>
<line x1="740.5" y1="2318.63" x2="916.7" y2="2318.63" stroke="#FFFFFF" stroke-width="1.5"/>
<line x1="740.5" y1="2230.4" x2="916.7" y2="2230.4" stroke="#FFFFFF" stroke-width="1.5"/>
<line x1="789.9" y1="2215.5" x2="789.9" y2="2571.6" stroke="#FFFFFF" stroke-width="1.5"/>
<line x1="869.9" y1="2215.5" x2="869.9" y2="2571.6" stroke="#FFFFFF" stroke-width="1.5"/>
<line x1="789.9" y1="2439.3" x2="789.9" y2="2498.9" stroke="#333333" stroke-width="1.2"/>
<line x1="789.9" y1="2542.2" x2="789.9" y2="2555.2" stroke="#333333" stroke-width="1.2"/>
<rect x="760.15" y="2498.9" width="59.5" height="43.3" fill="#E9746C" stroke="#333333" stroke-width="1.3"/>
<line x1="760.15" y1="2527.4" x2="819.65" y2="2527.4" stroke="#333333" stroke-width="2.6"/>
<circle cx="789.9" cy="2422.8" r="2.8" fill="#333333"/>
<line x1="869.9" y1="2441.4" x2="869.9" y2="2445.9" stroke="#333333" stroke-width="1.2"/>
<line x1="869.9" y1="2473.9" x2="869.9" y2="2497.8" stroke="#333333" stroke-width="1.2"/>
<rect x="840.15" y="2445.9" width="59.5" height="28" fill="#1BB5B9" stroke="#333333" stroke-width="1.3"/>
<line x1="840.15" y1="2448.5" x2="899.65" y2="2448.5" stroke="#333333" stroke-width="2.6"/>
<text transform="translate(863.54,2436.48) scale(1,1.000)" font-size="42.86" font-weight="bold" fill="#000">*</text>
<line x1="606.4" y1="2571.6" x2="606.4" y2="2576.4" stroke="#333333" stroke-width="1.1"/>
<text transform="translate(585.53,2591) scale(1,1.000)" font-size="12.4" font-weight="normal" fill="#4D4D4D">AdPCa</text>
<line x1="685.3" y1="2571.6" x2="685.3" y2="2576.4" stroke="#333333" stroke-width="1.1"/>
<text transform="translate(662.81,2591) scale(1,1.000)" font-size="12.4" font-weight="normal" fill="#4D4D4D">NEPCa</text>
<line x1="789.9" y1="2571.6" x2="789.9" y2="2576.4" stroke="#333333" stroke-width="1.1"/>
<text transform="translate(769.23,2591) scale(1,1.000)" font-size="12.4" font-weight="normal" fill="#4D4D4D">AdPCa</text>
<line x1="869.9" y1="2571.6" x2="869.9" y2="2576.4" stroke="#333333" stroke-width="1.1"/>
<text transform="translate(847.51,2591) scale(1,1.000)" font-size="12.4" font-weight="normal" fill="#4D4D4D">NEPCa</text>
<text transform="translate(517.6,2086.49) rotate(-90) scale(1,1.084)" font-size="47.21" font-weight="bold" fill="#000">GSE41192</text>
<text transform="translate(529.9,2211.64) rotate(-90) scale(1,1.046)" font-size="15.82" font-weight="normal" fill="#111">value</text>
<text transform="translate(557.36,1809.1) scale(1,1.036)" font-size="43.59" font-weight="bold" fill="#000">HOXB13</text>
<text transform="translate(754.47,1809.1) scale(1,1.039)" font-size="43.47" font-weight="bold" fill="#000">HOXB3</text>
<text transform="translate(938.75,1809.1) scale(1,1.034)" font-size="43.67" font-weight="bold" fill="#000">HOXB5</text>
<text transform="translate(581.26,2215.5) scale(1,1.017)" font-size="43.56" font-weight="bold" fill="#000">HOXB6</text>
<text transform="translate(741.95,2215.5) scale(1,1.015)" font-size="43.66" font-weight="bold" fill="#000">HOXB7</text>
<rect x="997.7" y="2327" width="51.3" height="51.4" fill="#F1F1F1"/>
<line x1="1022.4" y1="2329.57" x2="1022.4" y2="2375.83" stroke="#333333" stroke-width="2.3"/>
<rect x="1001.3" y="2339.85" width="42.2" height="25.7" fill="#E9746C" stroke="#333333" stroke-width="2.3"/>
<line x1="1001.3" y1="2352.7" x2="1043.5" y2="2352.7" stroke="#333333" stroke-width="2.6"/>
<text transform="translate(1062.43,2367.6) scale(1,1.040)" font-size="42.8" font-weight="bold" fill="#000">AdPCa</text>
<rect x="997.7" y="2381.2" width="51.3" height="51.5" fill="#F1F1F1"/>
<line x1="1022.4" y1="2383.77" x2="1022.4" y2="2430.12" stroke="#333333" stroke-width="2.3"/>
<rect x="1001.3" y="2394.07" width="42.2" height="25.75" fill="#1BB5B9" stroke="#333333" stroke-width="2.3"/>
<line x1="1001.3" y1="2406.95" x2="1043.5" y2="2406.95" stroke="#333333" stroke-width="2.6"/>
<text transform="translate(1062.43,2419.4) scale(1,1.040)" font-size="42.8" font-weight="bold" fill="#000">NEPCa</text>
</svg>
</body></html>
